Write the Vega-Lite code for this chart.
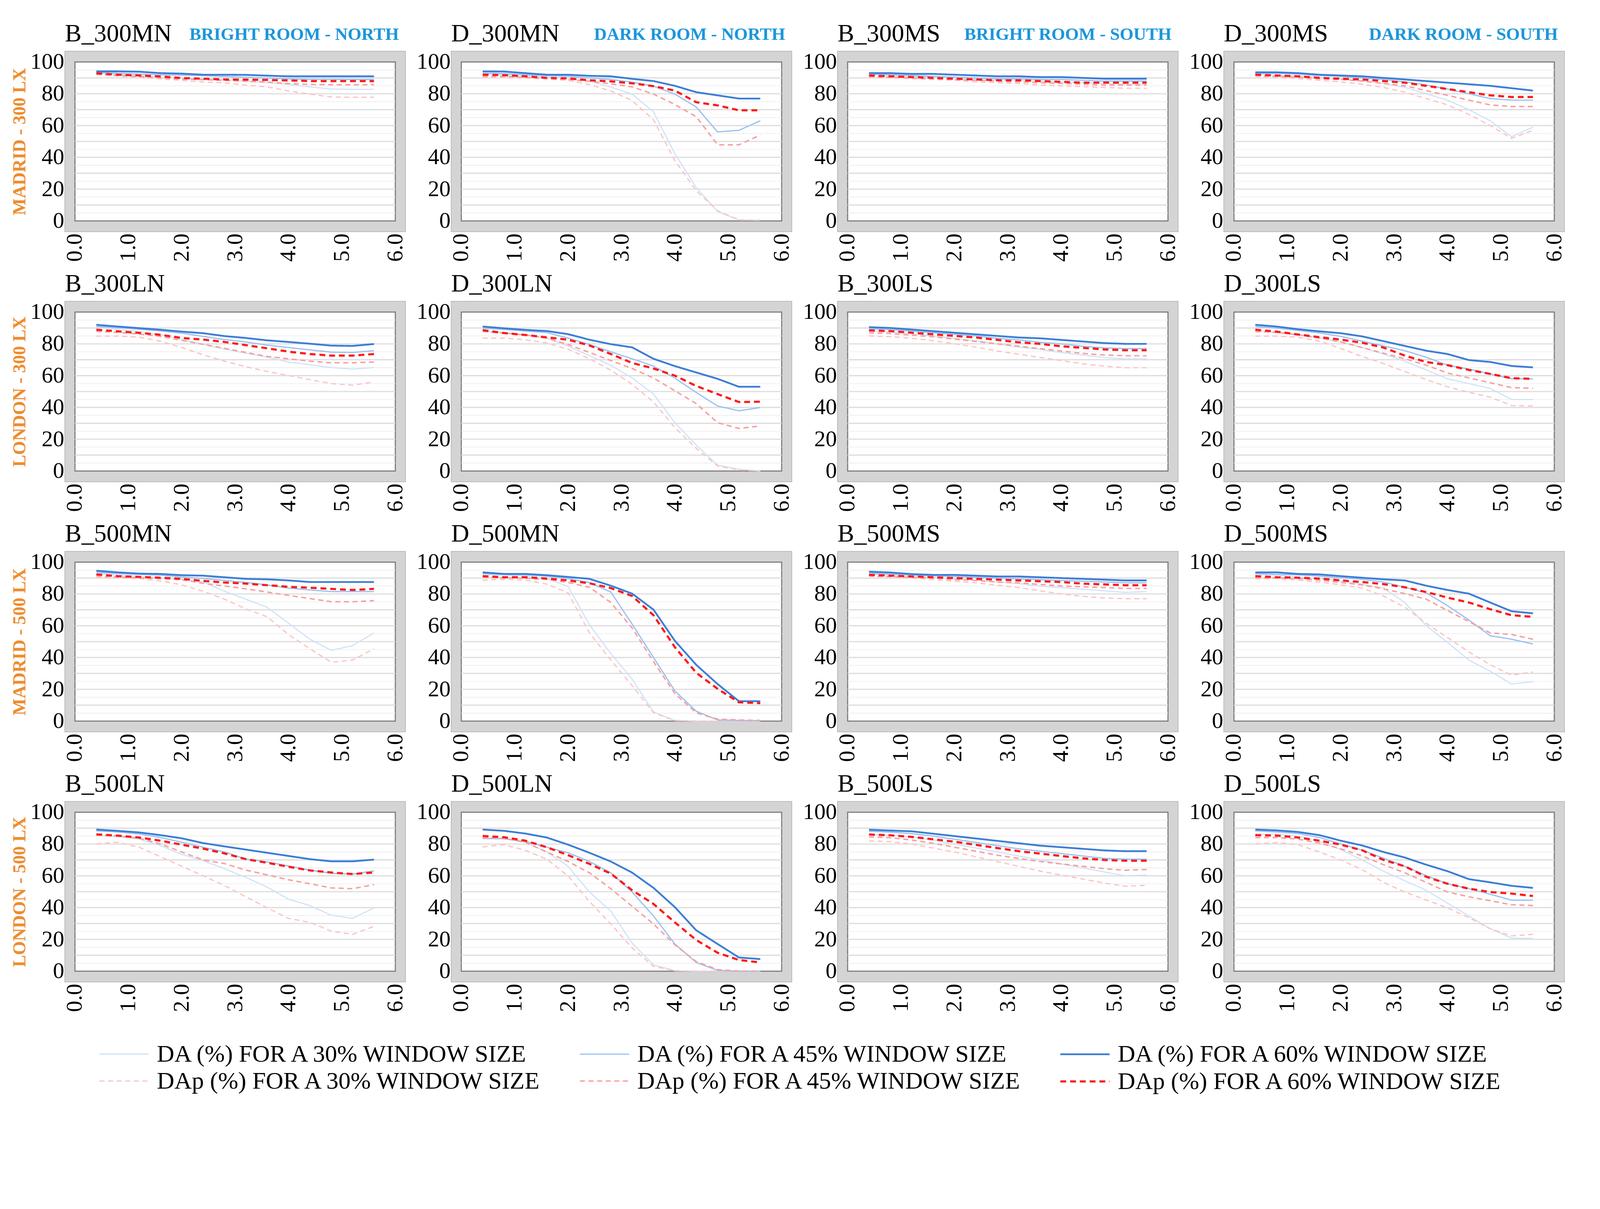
{
"$schema": "https://vega.github.io/schema/vega-lite/v6.json",
"padding": {"left": 26, "top": 53, "right": 10, "bottom": 10},
"background": "#ffffff",
"spacing": 22,
"hconcat": [
{"title": {"text": "BRIGHT ROOM - NORTH", "anchor": "end", "frame": "bounds", "color": "#1a96dc", "fontSize": 45, "fontWeight": "bold", "offset": -57, "dx": -21},
 "spacing": 22,
 "vconcat": [
  {"title":"B_300MN","width":872,"height":462,"layer":[
    {"data":{"values":[{}]},"mark":{"type":"rect","fill":"#ffffff","stroke":"#7a7a7a","strokeWidth":2.8},"encoding":{"x":{"datum":0,"type":"quantitative","scale":{"domain":[-0.19,6.19],"nice":false,"zero":false}},"x2":{"datum":6},"y":{"datum":0,"type":"quantitative","scale":{"domain":[-6.8,106.8],"nice":false,"zero":false}},"y2":{"datum":100}}},
    {"data":{"name":"g5"},"mark":{"type":"rule","stroke":"#eeeeee","strokeWidth":1.8},"encoding":{"x":{"datum":0,"type":"quantitative","scale":{"domain":[-0.19,6.19],"nice":false,"zero":false}},"x2":{"datum":6},"y":{"field":"g","type":"quantitative","scale":{"domain":[-6.8,106.8],"nice":false,"zero":false}}}},
    {"data":{"name":"g10"},"mark":{"type":"rule","stroke":"#dedede","strokeWidth":3.2},"encoding":{"x":{"datum":0,"type":"quantitative","scale":{"domain":[-0.19,6.19],"nice":false,"zero":false}},"x2":{"datum":6},"y":{"field":"g","type":"quantitative","scale":{"domain":[-6.8,106.8],"nice":false,"zero":false}}}},
    {"data":{"name":"B_300MN"},"mark":{"type":"line"},"encoding":{
      "x":{"field":"x","type":"quantitative","scale":{"domain":[-0.19,6.19],"nice":false,"zero":false},"axis":{"values":[0,1,2,3,4,5,6],"format":".1f","title":null}},
      "y":{"field":"y","type":"quantitative","scale":{"domain":[-6.8,106.8],"nice":false,"zero":false},"axis":{"values":[0,20,40,60,80,100],"title":"MADRID - 300 LX"}},
      "color":{"field":"s","type":"nominal","scale":{"domain":["DA30","DA45","DA60","DAp30","DAp45","DAp60"],"range":["#cde2f8","#9cc2f0","#3b7ed6","#fbc4c4","#f7a0a0","#ff1a1a"]},"legend":{"title":null,"symbolType":"M-2,0L2,0","labelExpr":"slice(datum.label,0,-2)+' (%) FOR A '+slice(datum.label,-2)+'% WINDOW SIZE'"}},
      "strokeDash":{"field":"s","type":"nominal","scale":{"domain":["DA30","DA45","DA60","DAp30","DAp45","DAp60"],"range":[[1,0],[1,0],[1,0],[13,9],[13,9],[15,10]]},"legend":{"title":null,"symbolType":"M-2,0L2,0","labelExpr":"slice(datum.label,0,-2)+' (%) FOR A '+slice(datum.label,-2)+'% WINDOW SIZE'"}},
      "strokeWidth":{"field":"s","type":"nominal","scale":{"type":"ordinal","domain":["DA30","DA45","DA60","DAp30","DAp45","DAp60"],"range":[2.8,3.2,4.6,3.2,3.7,5.5]},"legend":{"title":null,"symbolType":"M-2,0L2,0","labelExpr":"slice(datum.label,0,-2)+' (%) FOR A '+slice(datum.label,-2)+'% WINDOW SIZE'"}}}}
   ]},
  {"title":"B_300LN","width":872,"height":462,"layer":[
    {"data":{"values":[{}]},"mark":{"type":"rect","fill":"#ffffff","stroke":"#7a7a7a","strokeWidth":2.8},"encoding":{"x":{"datum":0,"type":"quantitative","scale":{"domain":[-0.19,6.19],"nice":false,"zero":false}},"x2":{"datum":6},"y":{"datum":0,"type":"quantitative","scale":{"domain":[-6.8,106.8],"nice":false,"zero":false}},"y2":{"datum":100}}},
    {"data":{"name":"g5"},"mark":{"type":"rule","stroke":"#eeeeee","strokeWidth":1.8},"encoding":{"x":{"datum":0,"type":"quantitative","scale":{"domain":[-0.19,6.19],"nice":false,"zero":false}},"x2":{"datum":6},"y":{"field":"g","type":"quantitative","scale":{"domain":[-6.8,106.8],"nice":false,"zero":false}}}},
    {"data":{"name":"g10"},"mark":{"type":"rule","stroke":"#dedede","strokeWidth":3.2},"encoding":{"x":{"datum":0,"type":"quantitative","scale":{"domain":[-0.19,6.19],"nice":false,"zero":false}},"x2":{"datum":6},"y":{"field":"g","type":"quantitative","scale":{"domain":[-6.8,106.8],"nice":false,"zero":false}}}},
    {"data":{"name":"B_300LN"},"mark":{"type":"line"},"encoding":{
      "x":{"field":"x","type":"quantitative","scale":{"domain":[-0.19,6.19],"nice":false,"zero":false},"axis":{"values":[0,1,2,3,4,5,6],"format":".1f","title":null}},
      "y":{"field":"y","type":"quantitative","scale":{"domain":[-6.8,106.8],"nice":false,"zero":false},"axis":{"values":[0,20,40,60,80,100],"title":"LONDON - 300 LX"}},
      "color":{"field":"s","type":"nominal","scale":{"domain":["DA30","DA45","DA60","DAp30","DAp45","DAp60"],"range":["#cde2f8","#9cc2f0","#3b7ed6","#fbc4c4","#f7a0a0","#ff1a1a"]},"legend":{"title":null,"symbolType":"M-2,0L2,0","labelExpr":"slice(datum.label,0,-2)+' (%) FOR A '+slice(datum.label,-2)+'% WINDOW SIZE'"}},
      "strokeDash":{"field":"s","type":"nominal","scale":{"domain":["DA30","DA45","DA60","DAp30","DAp45","DAp60"],"range":[[1,0],[1,0],[1,0],[13,9],[13,9],[15,10]]},"legend":{"title":null,"symbolType":"M-2,0L2,0","labelExpr":"slice(datum.label,0,-2)+' (%) FOR A '+slice(datum.label,-2)+'% WINDOW SIZE'"}},
      "strokeWidth":{"field":"s","type":"nominal","scale":{"type":"ordinal","domain":["DA30","DA45","DA60","DAp30","DAp45","DAp60"],"range":[2.8,3.2,4.6,3.2,3.7,5.5]},"legend":{"title":null,"symbolType":"M-2,0L2,0","labelExpr":"slice(datum.label,0,-2)+' (%) FOR A '+slice(datum.label,-2)+'% WINDOW SIZE'"}}}}
   ]},
  {"title":"B_500MN","width":872,"height":462,"layer":[
    {"data":{"values":[{}]},"mark":{"type":"rect","fill":"#ffffff","stroke":"#7a7a7a","strokeWidth":2.8},"encoding":{"x":{"datum":0,"type":"quantitative","scale":{"domain":[-0.19,6.19],"nice":false,"zero":false}},"x2":{"datum":6},"y":{"datum":0,"type":"quantitative","scale":{"domain":[-6.8,106.8],"nice":false,"zero":false}},"y2":{"datum":100}}},
    {"data":{"name":"g5"},"mark":{"type":"rule","stroke":"#eeeeee","strokeWidth":1.8},"encoding":{"x":{"datum":0,"type":"quantitative","scale":{"domain":[-0.19,6.19],"nice":false,"zero":false}},"x2":{"datum":6},"y":{"field":"g","type":"quantitative","scale":{"domain":[-6.8,106.8],"nice":false,"zero":false}}}},
    {"data":{"name":"g10"},"mark":{"type":"rule","stroke":"#dedede","strokeWidth":3.2},"encoding":{"x":{"datum":0,"type":"quantitative","scale":{"domain":[-0.19,6.19],"nice":false,"zero":false}},"x2":{"datum":6},"y":{"field":"g","type":"quantitative","scale":{"domain":[-6.8,106.8],"nice":false,"zero":false}}}},
    {"data":{"name":"B_500MN"},"mark":{"type":"line"},"encoding":{
      "x":{"field":"x","type":"quantitative","scale":{"domain":[-0.19,6.19],"nice":false,"zero":false},"axis":{"values":[0,1,2,3,4,5,6],"format":".1f","title":null}},
      "y":{"field":"y","type":"quantitative","scale":{"domain":[-6.8,106.8],"nice":false,"zero":false},"axis":{"values":[0,20,40,60,80,100],"title":"MADRID - 500 LX"}},
      "color":{"field":"s","type":"nominal","scale":{"domain":["DA30","DA45","DA60","DAp30","DAp45","DAp60"],"range":["#cde2f8","#9cc2f0","#3b7ed6","#fbc4c4","#f7a0a0","#ff1a1a"]},"legend":{"title":null,"symbolType":"M-2,0L2,0","labelExpr":"slice(datum.label,0,-2)+' (%) FOR A '+slice(datum.label,-2)+'% WINDOW SIZE'"}},
      "strokeDash":{"field":"s","type":"nominal","scale":{"domain":["DA30","DA45","DA60","DAp30","DAp45","DAp60"],"range":[[1,0],[1,0],[1,0],[13,9],[13,9],[15,10]]},"legend":{"title":null,"symbolType":"M-2,0L2,0","labelExpr":"slice(datum.label,0,-2)+' (%) FOR A '+slice(datum.label,-2)+'% WINDOW SIZE'"}},
      "strokeWidth":{"field":"s","type":"nominal","scale":{"type":"ordinal","domain":["DA30","DA45","DA60","DAp30","DAp45","DAp60"],"range":[2.8,3.2,4.6,3.2,3.7,5.5]},"legend":{"title":null,"symbolType":"M-2,0L2,0","labelExpr":"slice(datum.label,0,-2)+' (%) FOR A '+slice(datum.label,-2)+'% WINDOW SIZE'"}}}}
   ]},
  {"title":"B_500LN","width":872,"height":462,"layer":[
    {"data":{"values":[{}]},"mark":{"type":"rect","fill":"#ffffff","stroke":"#7a7a7a","strokeWidth":2.8},"encoding":{"x":{"datum":0,"type":"quantitative","scale":{"domain":[-0.19,6.19],"nice":false,"zero":false}},"x2":{"datum":6},"y":{"datum":0,"type":"quantitative","scale":{"domain":[-6.8,106.8],"nice":false,"zero":false}},"y2":{"datum":100}}},
    {"data":{"name":"g5"},"mark":{"type":"rule","stroke":"#eeeeee","strokeWidth":1.8},"encoding":{"x":{"datum":0,"type":"quantitative","scale":{"domain":[-0.19,6.19],"nice":false,"zero":false}},"x2":{"datum":6},"y":{"field":"g","type":"quantitative","scale":{"domain":[-6.8,106.8],"nice":false,"zero":false}}}},
    {"data":{"name":"g10"},"mark":{"type":"rule","stroke":"#dedede","strokeWidth":3.2},"encoding":{"x":{"datum":0,"type":"quantitative","scale":{"domain":[-0.19,6.19],"nice":false,"zero":false}},"x2":{"datum":6},"y":{"field":"g","type":"quantitative","scale":{"domain":[-6.8,106.8],"nice":false,"zero":false}}}},
    {"data":{"name":"B_500LN"},"mark":{"type":"line"},"encoding":{
      "x":{"field":"x","type":"quantitative","scale":{"domain":[-0.19,6.19],"nice":false,"zero":false},"axis":{"values":[0,1,2,3,4,5,6],"format":".1f","title":null}},
      "y":{"field":"y","type":"quantitative","scale":{"domain":[-6.8,106.8],"nice":false,"zero":false},"axis":{"values":[0,20,40,60,80,100],"title":"LONDON - 500 LX"}},
      "color":{"field":"s","type":"nominal","scale":{"domain":["DA30","DA45","DA60","DAp30","DAp45","DAp60"],"range":["#cde2f8","#9cc2f0","#3b7ed6","#fbc4c4","#f7a0a0","#ff1a1a"]},"legend":{"title":null,"symbolType":"M-2,0L2,0","labelExpr":"slice(datum.label,0,-2)+' (%) FOR A '+slice(datum.label,-2)+'% WINDOW SIZE'"}},
      "strokeDash":{"field":"s","type":"nominal","scale":{"domain":["DA30","DA45","DA60","DAp30","DAp45","DAp60"],"range":[[1,0],[1,0],[1,0],[13,9],[13,9],[15,10]]},"legend":{"title":null,"symbolType":"M-2,0L2,0","labelExpr":"slice(datum.label,0,-2)+' (%) FOR A '+slice(datum.label,-2)+'% WINDOW SIZE'"}},
      "strokeWidth":{"field":"s","type":"nominal","scale":{"type":"ordinal","domain":["DA30","DA45","DA60","DAp30","DAp45","DAp60"],"range":[2.8,3.2,4.6,3.2,3.7,5.5]},"legend":{"title":null,"symbolType":"M-2,0L2,0","labelExpr":"slice(datum.label,0,-2)+' (%) FOR A '+slice(datum.label,-2)+'% WINDOW SIZE'"}}}}
   ]}
 ]},
{"title": {"text": "DARK ROOM - NORTH", "anchor": "end", "frame": "bounds", "color": "#1a96dc", "fontSize": 45, "fontWeight": "bold", "offset": -57, "dx": -21},
 "spacing": 22,
 "vconcat": [
  {"title":"D_300MN","width":872,"height":462,"layer":[
    {"data":{"values":[{}]},"mark":{"type":"rect","fill":"#ffffff","stroke":"#7a7a7a","strokeWidth":2.8},"encoding":{"x":{"datum":0,"type":"quantitative","scale":{"domain":[-0.19,6.19],"nice":false,"zero":false}},"x2":{"datum":6},"y":{"datum":0,"type":"quantitative","scale":{"domain":[-6.8,106.8],"nice":false,"zero":false}},"y2":{"datum":100}}},
    {"data":{"name":"g5"},"mark":{"type":"rule","stroke":"#eeeeee","strokeWidth":1.8},"encoding":{"x":{"datum":0,"type":"quantitative","scale":{"domain":[-0.19,6.19],"nice":false,"zero":false}},"x2":{"datum":6},"y":{"field":"g","type":"quantitative","scale":{"domain":[-6.8,106.8],"nice":false,"zero":false}}}},
    {"data":{"name":"g10"},"mark":{"type":"rule","stroke":"#dedede","strokeWidth":3.2},"encoding":{"x":{"datum":0,"type":"quantitative","scale":{"domain":[-0.19,6.19],"nice":false,"zero":false}},"x2":{"datum":6},"y":{"field":"g","type":"quantitative","scale":{"domain":[-6.8,106.8],"nice":false,"zero":false}}}},
    {"data":{"name":"D_300MN"},"mark":{"type":"line"},"encoding":{
      "x":{"field":"x","type":"quantitative","scale":{"domain":[-0.19,6.19],"nice":false,"zero":false},"axis":{"values":[0,1,2,3,4,5,6],"format":".1f","title":null}},
      "y":{"field":"y","type":"quantitative","scale":{"domain":[-6.8,106.8],"nice":false,"zero":false},"axis":{"values":[0,20,40,60,80,100],"title":null}},
      "color":{"field":"s","type":"nominal","scale":{"domain":["DA30","DA45","DA60","DAp30","DAp45","DAp60"],"range":["#cde2f8","#9cc2f0","#3b7ed6","#fbc4c4","#f7a0a0","#ff1a1a"]},"legend":{"title":null,"symbolType":"M-2,0L2,0","labelExpr":"slice(datum.label,0,-2)+' (%) FOR A '+slice(datum.label,-2)+'% WINDOW SIZE'"}},
      "strokeDash":{"field":"s","type":"nominal","scale":{"domain":["DA30","DA45","DA60","DAp30","DAp45","DAp60"],"range":[[1,0],[1,0],[1,0],[13,9],[13,9],[15,10]]},"legend":{"title":null,"symbolType":"M-2,0L2,0","labelExpr":"slice(datum.label,0,-2)+' (%) FOR A '+slice(datum.label,-2)+'% WINDOW SIZE'"}},
      "strokeWidth":{"field":"s","type":"nominal","scale":{"type":"ordinal","domain":["DA30","DA45","DA60","DAp30","DAp45","DAp60"],"range":[2.8,3.2,4.6,3.2,3.7,5.5]},"legend":{"title":null,"symbolType":"M-2,0L2,0","labelExpr":"slice(datum.label,0,-2)+' (%) FOR A '+slice(datum.label,-2)+'% WINDOW SIZE'"}}}}
   ]},
  {"title":"D_300LN","width":872,"height":462,"layer":[
    {"data":{"values":[{}]},"mark":{"type":"rect","fill":"#ffffff","stroke":"#7a7a7a","strokeWidth":2.8},"encoding":{"x":{"datum":0,"type":"quantitative","scale":{"domain":[-0.19,6.19],"nice":false,"zero":false}},"x2":{"datum":6},"y":{"datum":0,"type":"quantitative","scale":{"domain":[-6.8,106.8],"nice":false,"zero":false}},"y2":{"datum":100}}},
    {"data":{"name":"g5"},"mark":{"type":"rule","stroke":"#eeeeee","strokeWidth":1.8},"encoding":{"x":{"datum":0,"type":"quantitative","scale":{"domain":[-0.19,6.19],"nice":false,"zero":false}},"x2":{"datum":6},"y":{"field":"g","type":"quantitative","scale":{"domain":[-6.8,106.8],"nice":false,"zero":false}}}},
    {"data":{"name":"g10"},"mark":{"type":"rule","stroke":"#dedede","strokeWidth":3.2},"encoding":{"x":{"datum":0,"type":"quantitative","scale":{"domain":[-0.19,6.19],"nice":false,"zero":false}},"x2":{"datum":6},"y":{"field":"g","type":"quantitative","scale":{"domain":[-6.8,106.8],"nice":false,"zero":false}}}},
    {"data":{"name":"D_300LN"},"mark":{"type":"line"},"encoding":{
      "x":{"field":"x","type":"quantitative","scale":{"domain":[-0.19,6.19],"nice":false,"zero":false},"axis":{"values":[0,1,2,3,4,5,6],"format":".1f","title":null}},
      "y":{"field":"y","type":"quantitative","scale":{"domain":[-6.8,106.8],"nice":false,"zero":false},"axis":{"values":[0,20,40,60,80,100],"title":null}},
      "color":{"field":"s","type":"nominal","scale":{"domain":["DA30","DA45","DA60","DAp30","DAp45","DAp60"],"range":["#cde2f8","#9cc2f0","#3b7ed6","#fbc4c4","#f7a0a0","#ff1a1a"]},"legend":{"title":null,"symbolType":"M-2,0L2,0","labelExpr":"slice(datum.label,0,-2)+' (%) FOR A '+slice(datum.label,-2)+'% WINDOW SIZE'"}},
      "strokeDash":{"field":"s","type":"nominal","scale":{"domain":["DA30","DA45","DA60","DAp30","DAp45","DAp60"],"range":[[1,0],[1,0],[1,0],[13,9],[13,9],[15,10]]},"legend":{"title":null,"symbolType":"M-2,0L2,0","labelExpr":"slice(datum.label,0,-2)+' (%) FOR A '+slice(datum.label,-2)+'% WINDOW SIZE'"}},
      "strokeWidth":{"field":"s","type":"nominal","scale":{"type":"ordinal","domain":["DA30","DA45","DA60","DAp30","DAp45","DAp60"],"range":[2.8,3.2,4.6,3.2,3.7,5.5]},"legend":{"title":null,"symbolType":"M-2,0L2,0","labelExpr":"slice(datum.label,0,-2)+' (%) FOR A '+slice(datum.label,-2)+'% WINDOW SIZE'"}}}}
   ]},
  {"title":"D_500MN","width":872,"height":462,"layer":[
    {"data":{"values":[{}]},"mark":{"type":"rect","fill":"#ffffff","stroke":"#7a7a7a","strokeWidth":2.8},"encoding":{"x":{"datum":0,"type":"quantitative","scale":{"domain":[-0.19,6.19],"nice":false,"zero":false}},"x2":{"datum":6},"y":{"datum":0,"type":"quantitative","scale":{"domain":[-6.8,106.8],"nice":false,"zero":false}},"y2":{"datum":100}}},
    {"data":{"name":"g5"},"mark":{"type":"rule","stroke":"#eeeeee","strokeWidth":1.8},"encoding":{"x":{"datum":0,"type":"quantitative","scale":{"domain":[-0.19,6.19],"nice":false,"zero":false}},"x2":{"datum":6},"y":{"field":"g","type":"quantitative","scale":{"domain":[-6.8,106.8],"nice":false,"zero":false}}}},
    {"data":{"name":"g10"},"mark":{"type":"rule","stroke":"#dedede","strokeWidth":3.2},"encoding":{"x":{"datum":0,"type":"quantitative","scale":{"domain":[-0.19,6.19],"nice":false,"zero":false}},"x2":{"datum":6},"y":{"field":"g","type":"quantitative","scale":{"domain":[-6.8,106.8],"nice":false,"zero":false}}}},
    {"data":{"name":"D_500MN"},"mark":{"type":"line"},"encoding":{
      "x":{"field":"x","type":"quantitative","scale":{"domain":[-0.19,6.19],"nice":false,"zero":false},"axis":{"values":[0,1,2,3,4,5,6],"format":".1f","title":null}},
      "y":{"field":"y","type":"quantitative","scale":{"domain":[-6.8,106.8],"nice":false,"zero":false},"axis":{"values":[0,20,40,60,80,100],"title":null}},
      "color":{"field":"s","type":"nominal","scale":{"domain":["DA30","DA45","DA60","DAp30","DAp45","DAp60"],"range":["#cde2f8","#9cc2f0","#3b7ed6","#fbc4c4","#f7a0a0","#ff1a1a"]},"legend":{"title":null,"symbolType":"M-2,0L2,0","labelExpr":"slice(datum.label,0,-2)+' (%) FOR A '+slice(datum.label,-2)+'% WINDOW SIZE'"}},
      "strokeDash":{"field":"s","type":"nominal","scale":{"domain":["DA30","DA45","DA60","DAp30","DAp45","DAp60"],"range":[[1,0],[1,0],[1,0],[13,9],[13,9],[15,10]]},"legend":{"title":null,"symbolType":"M-2,0L2,0","labelExpr":"slice(datum.label,0,-2)+' (%) FOR A '+slice(datum.label,-2)+'% WINDOW SIZE'"}},
      "strokeWidth":{"field":"s","type":"nominal","scale":{"type":"ordinal","domain":["DA30","DA45","DA60","DAp30","DAp45","DAp60"],"range":[2.8,3.2,4.6,3.2,3.7,5.5]},"legend":{"title":null,"symbolType":"M-2,0L2,0","labelExpr":"slice(datum.label,0,-2)+' (%) FOR A '+slice(datum.label,-2)+'% WINDOW SIZE'"}}}}
   ]},
  {"title":"D_500LN","width":872,"height":462,"layer":[
    {"data":{"values":[{}]},"mark":{"type":"rect","fill":"#ffffff","stroke":"#7a7a7a","strokeWidth":2.8},"encoding":{"x":{"datum":0,"type":"quantitative","scale":{"domain":[-0.19,6.19],"nice":false,"zero":false}},"x2":{"datum":6},"y":{"datum":0,"type":"quantitative","scale":{"domain":[-6.8,106.8],"nice":false,"zero":false}},"y2":{"datum":100}}},
    {"data":{"name":"g5"},"mark":{"type":"rule","stroke":"#eeeeee","strokeWidth":1.8},"encoding":{"x":{"datum":0,"type":"quantitative","scale":{"domain":[-0.19,6.19],"nice":false,"zero":false}},"x2":{"datum":6},"y":{"field":"g","type":"quantitative","scale":{"domain":[-6.8,106.8],"nice":false,"zero":false}}}},
    {"data":{"name":"g10"},"mark":{"type":"rule","stroke":"#dedede","strokeWidth":3.2},"encoding":{"x":{"datum":0,"type":"quantitative","scale":{"domain":[-0.19,6.19],"nice":false,"zero":false}},"x2":{"datum":6},"y":{"field":"g","type":"quantitative","scale":{"domain":[-6.8,106.8],"nice":false,"zero":false}}}},
    {"data":{"name":"D_500LN"},"mark":{"type":"line"},"encoding":{
      "x":{"field":"x","type":"quantitative","scale":{"domain":[-0.19,6.19],"nice":false,"zero":false},"axis":{"values":[0,1,2,3,4,5,6],"format":".1f","title":null}},
      "y":{"field":"y","type":"quantitative","scale":{"domain":[-6.8,106.8],"nice":false,"zero":false},"axis":{"values":[0,20,40,60,80,100],"title":null}},
      "color":{"field":"s","type":"nominal","scale":{"domain":["DA30","DA45","DA60","DAp30","DAp45","DAp60"],"range":["#cde2f8","#9cc2f0","#3b7ed6","#fbc4c4","#f7a0a0","#ff1a1a"]},"legend":{"title":null,"symbolType":"M-2,0L2,0","labelExpr":"slice(datum.label,0,-2)+' (%) FOR A '+slice(datum.label,-2)+'% WINDOW SIZE'"}},
      "strokeDash":{"field":"s","type":"nominal","scale":{"domain":["DA30","DA45","DA60","DAp30","DAp45","DAp60"],"range":[[1,0],[1,0],[1,0],[13,9],[13,9],[15,10]]},"legend":{"title":null,"symbolType":"M-2,0L2,0","labelExpr":"slice(datum.label,0,-2)+' (%) FOR A '+slice(datum.label,-2)+'% WINDOW SIZE'"}},
      "strokeWidth":{"field":"s","type":"nominal","scale":{"type":"ordinal","domain":["DA30","DA45","DA60","DAp30","DAp45","DAp60"],"range":[2.8,3.2,4.6,3.2,3.7,5.5]},"legend":{"title":null,"symbolType":"M-2,0L2,0","labelExpr":"slice(datum.label,0,-2)+' (%) FOR A '+slice(datum.label,-2)+'% WINDOW SIZE'"}}}}
   ]}
 ]},
{"title": {"text": "BRIGHT ROOM - SOUTH", "anchor": "end", "frame": "bounds", "color": "#1a96dc", "fontSize": 45, "fontWeight": "bold", "offset": -57, "dx": -21},
 "spacing": 22,
 "vconcat": [
  {"title":"B_300MS","width":872,"height":462,"layer":[
    {"data":{"values":[{}]},"mark":{"type":"rect","fill":"#ffffff","stroke":"#7a7a7a","strokeWidth":2.8},"encoding":{"x":{"datum":0,"type":"quantitative","scale":{"domain":[-0.19,6.19],"nice":false,"zero":false}},"x2":{"datum":6},"y":{"datum":0,"type":"quantitative","scale":{"domain":[-6.8,106.8],"nice":false,"zero":false}},"y2":{"datum":100}}},
    {"data":{"name":"g5"},"mark":{"type":"rule","stroke":"#eeeeee","strokeWidth":1.8},"encoding":{"x":{"datum":0,"type":"quantitative","scale":{"domain":[-0.19,6.19],"nice":false,"zero":false}},"x2":{"datum":6},"y":{"field":"g","type":"quantitative","scale":{"domain":[-6.8,106.8],"nice":false,"zero":false}}}},
    {"data":{"name":"g10"},"mark":{"type":"rule","stroke":"#dedede","strokeWidth":3.2},"encoding":{"x":{"datum":0,"type":"quantitative","scale":{"domain":[-0.19,6.19],"nice":false,"zero":false}},"x2":{"datum":6},"y":{"field":"g","type":"quantitative","scale":{"domain":[-6.8,106.8],"nice":false,"zero":false}}}},
    {"data":{"name":"B_300MS"},"mark":{"type":"line"},"encoding":{
      "x":{"field":"x","type":"quantitative","scale":{"domain":[-0.19,6.19],"nice":false,"zero":false},"axis":{"values":[0,1,2,3,4,5,6],"format":".1f","title":null}},
      "y":{"field":"y","type":"quantitative","scale":{"domain":[-6.8,106.8],"nice":false,"zero":false},"axis":{"values":[0,20,40,60,80,100],"title":null}},
      "color":{"field":"s","type":"nominal","scale":{"domain":["DA30","DA45","DA60","DAp30","DAp45","DAp60"],"range":["#cde2f8","#9cc2f0","#3b7ed6","#fbc4c4","#f7a0a0","#ff1a1a"]},"legend":{"title":null,"symbolType":"M-2,0L2,0","labelExpr":"slice(datum.label,0,-2)+' (%) FOR A '+slice(datum.label,-2)+'% WINDOW SIZE'"}},
      "strokeDash":{"field":"s","type":"nominal","scale":{"domain":["DA30","DA45","DA60","DAp30","DAp45","DAp60"],"range":[[1,0],[1,0],[1,0],[13,9],[13,9],[15,10]]},"legend":{"title":null,"symbolType":"M-2,0L2,0","labelExpr":"slice(datum.label,0,-2)+' (%) FOR A '+slice(datum.label,-2)+'% WINDOW SIZE'"}},
      "strokeWidth":{"field":"s","type":"nominal","scale":{"type":"ordinal","domain":["DA30","DA45","DA60","DAp30","DAp45","DAp60"],"range":[2.8,3.2,4.6,3.2,3.7,5.5]},"legend":{"title":null,"symbolType":"M-2,0L2,0","labelExpr":"slice(datum.label,0,-2)+' (%) FOR A '+slice(datum.label,-2)+'% WINDOW SIZE'"}}}}
   ]},
  {"title":"B_300LS","width":872,"height":462,"layer":[
    {"data":{"values":[{}]},"mark":{"type":"rect","fill":"#ffffff","stroke":"#7a7a7a","strokeWidth":2.8},"encoding":{"x":{"datum":0,"type":"quantitative","scale":{"domain":[-0.19,6.19],"nice":false,"zero":false}},"x2":{"datum":6},"y":{"datum":0,"type":"quantitative","scale":{"domain":[-6.8,106.8],"nice":false,"zero":false}},"y2":{"datum":100}}},
    {"data":{"name":"g5"},"mark":{"type":"rule","stroke":"#eeeeee","strokeWidth":1.8},"encoding":{"x":{"datum":0,"type":"quantitative","scale":{"domain":[-0.19,6.19],"nice":false,"zero":false}},"x2":{"datum":6},"y":{"field":"g","type":"quantitative","scale":{"domain":[-6.8,106.8],"nice":false,"zero":false}}}},
    {"data":{"name":"g10"},"mark":{"type":"rule","stroke":"#dedede","strokeWidth":3.2},"encoding":{"x":{"datum":0,"type":"quantitative","scale":{"domain":[-0.19,6.19],"nice":false,"zero":false}},"x2":{"datum":6},"y":{"field":"g","type":"quantitative","scale":{"domain":[-6.8,106.8],"nice":false,"zero":false}}}},
    {"data":{"name":"B_300LS"},"mark":{"type":"line"},"encoding":{
      "x":{"field":"x","type":"quantitative","scale":{"domain":[-0.19,6.19],"nice":false,"zero":false},"axis":{"values":[0,1,2,3,4,5,6],"format":".1f","title":null}},
      "y":{"field":"y","type":"quantitative","scale":{"domain":[-6.8,106.8],"nice":false,"zero":false},"axis":{"values":[0,20,40,60,80,100],"title":null}},
      "color":{"field":"s","type":"nominal","scale":{"domain":["DA30","DA45","DA60","DAp30","DAp45","DAp60"],"range":["#cde2f8","#9cc2f0","#3b7ed6","#fbc4c4","#f7a0a0","#ff1a1a"]},"legend":{"title":null,"symbolType":"M-2,0L2,0","labelExpr":"slice(datum.label,0,-2)+' (%) FOR A '+slice(datum.label,-2)+'% WINDOW SIZE'"}},
      "strokeDash":{"field":"s","type":"nominal","scale":{"domain":["DA30","DA45","DA60","DAp30","DAp45","DAp60"],"range":[[1,0],[1,0],[1,0],[13,9],[13,9],[15,10]]},"legend":{"title":null,"symbolType":"M-2,0L2,0","labelExpr":"slice(datum.label,0,-2)+' (%) FOR A '+slice(datum.label,-2)+'% WINDOW SIZE'"}},
      "strokeWidth":{"field":"s","type":"nominal","scale":{"type":"ordinal","domain":["DA30","DA45","DA60","DAp30","DAp45","DAp60"],"range":[2.8,3.2,4.6,3.2,3.7,5.5]},"legend":{"title":null,"symbolType":"M-2,0L2,0","labelExpr":"slice(datum.label,0,-2)+' (%) FOR A '+slice(datum.label,-2)+'% WINDOW SIZE'"}}}}
   ]},
  {"title":"B_500MS","width":872,"height":462,"layer":[
    {"data":{"values":[{}]},"mark":{"type":"rect","fill":"#ffffff","stroke":"#7a7a7a","strokeWidth":2.8},"encoding":{"x":{"datum":0,"type":"quantitative","scale":{"domain":[-0.19,6.19],"nice":false,"zero":false}},"x2":{"datum":6},"y":{"datum":0,"type":"quantitative","scale":{"domain":[-6.8,106.8],"nice":false,"zero":false}},"y2":{"datum":100}}},
    {"data":{"name":"g5"},"mark":{"type":"rule","stroke":"#eeeeee","strokeWidth":1.8},"encoding":{"x":{"datum":0,"type":"quantitative","scale":{"domain":[-0.19,6.19],"nice":false,"zero":false}},"x2":{"datum":6},"y":{"field":"g","type":"quantitative","scale":{"domain":[-6.8,106.8],"nice":false,"zero":false}}}},
    {"data":{"name":"g10"},"mark":{"type":"rule","stroke":"#dedede","strokeWidth":3.2},"encoding":{"x":{"datum":0,"type":"quantitative","scale":{"domain":[-0.19,6.19],"nice":false,"zero":false}},"x2":{"datum":6},"y":{"field":"g","type":"quantitative","scale":{"domain":[-6.8,106.8],"nice":false,"zero":false}}}},
    {"data":{"name":"B_500MS"},"mark":{"type":"line"},"encoding":{
      "x":{"field":"x","type":"quantitative","scale":{"domain":[-0.19,6.19],"nice":false,"zero":false},"axis":{"values":[0,1,2,3,4,5,6],"format":".1f","title":null}},
      "y":{"field":"y","type":"quantitative","scale":{"domain":[-6.8,106.8],"nice":false,"zero":false},"axis":{"values":[0,20,40,60,80,100],"title":null}},
      "color":{"field":"s","type":"nominal","scale":{"domain":["DA30","DA45","DA60","DAp30","DAp45","DAp60"],"range":["#cde2f8","#9cc2f0","#3b7ed6","#fbc4c4","#f7a0a0","#ff1a1a"]},"legend":{"title":null,"symbolType":"M-2,0L2,0","labelExpr":"slice(datum.label,0,-2)+' (%) FOR A '+slice(datum.label,-2)+'% WINDOW SIZE'"}},
      "strokeDash":{"field":"s","type":"nominal","scale":{"domain":["DA30","DA45","DA60","DAp30","DAp45","DAp60"],"range":[[1,0],[1,0],[1,0],[13,9],[13,9],[15,10]]},"legend":{"title":null,"symbolType":"M-2,0L2,0","labelExpr":"slice(datum.label,0,-2)+' (%) FOR A '+slice(datum.label,-2)+'% WINDOW SIZE'"}},
      "strokeWidth":{"field":"s","type":"nominal","scale":{"type":"ordinal","domain":["DA30","DA45","DA60","DAp30","DAp45","DAp60"],"range":[2.8,3.2,4.6,3.2,3.7,5.5]},"legend":{"title":null,"symbolType":"M-2,0L2,0","labelExpr":"slice(datum.label,0,-2)+' (%) FOR A '+slice(datum.label,-2)+'% WINDOW SIZE'"}}}}
   ]},
  {"title":"B_500LS","width":872,"height":462,"layer":[
    {"data":{"values":[{}]},"mark":{"type":"rect","fill":"#ffffff","stroke":"#7a7a7a","strokeWidth":2.8},"encoding":{"x":{"datum":0,"type":"quantitative","scale":{"domain":[-0.19,6.19],"nice":false,"zero":false}},"x2":{"datum":6},"y":{"datum":0,"type":"quantitative","scale":{"domain":[-6.8,106.8],"nice":false,"zero":false}},"y2":{"datum":100}}},
    {"data":{"name":"g5"},"mark":{"type":"rule","stroke":"#eeeeee","strokeWidth":1.8},"encoding":{"x":{"datum":0,"type":"quantitative","scale":{"domain":[-0.19,6.19],"nice":false,"zero":false}},"x2":{"datum":6},"y":{"field":"g","type":"quantitative","scale":{"domain":[-6.8,106.8],"nice":false,"zero":false}}}},
    {"data":{"name":"g10"},"mark":{"type":"rule","stroke":"#dedede","strokeWidth":3.2},"encoding":{"x":{"datum":0,"type":"quantitative","scale":{"domain":[-0.19,6.19],"nice":false,"zero":false}},"x2":{"datum":6},"y":{"field":"g","type":"quantitative","scale":{"domain":[-6.8,106.8],"nice":false,"zero":false}}}},
    {"data":{"name":"B_500LS"},"mark":{"type":"line"},"encoding":{
      "x":{"field":"x","type":"quantitative","scale":{"domain":[-0.19,6.19],"nice":false,"zero":false},"axis":{"values":[0,1,2,3,4,5,6],"format":".1f","title":null}},
      "y":{"field":"y","type":"quantitative","scale":{"domain":[-6.8,106.8],"nice":false,"zero":false},"axis":{"values":[0,20,40,60,80,100],"title":null}},
      "color":{"field":"s","type":"nominal","scale":{"domain":["DA30","DA45","DA60","DAp30","DAp45","DAp60"],"range":["#cde2f8","#9cc2f0","#3b7ed6","#fbc4c4","#f7a0a0","#ff1a1a"]},"legend":{"title":null,"symbolType":"M-2,0L2,0","labelExpr":"slice(datum.label,0,-2)+' (%) FOR A '+slice(datum.label,-2)+'% WINDOW SIZE'"}},
      "strokeDash":{"field":"s","type":"nominal","scale":{"domain":["DA30","DA45","DA60","DAp30","DAp45","DAp60"],"range":[[1,0],[1,0],[1,0],[13,9],[13,9],[15,10]]},"legend":{"title":null,"symbolType":"M-2,0L2,0","labelExpr":"slice(datum.label,0,-2)+' (%) FOR A '+slice(datum.label,-2)+'% WINDOW SIZE'"}},
      "strokeWidth":{"field":"s","type":"nominal","scale":{"type":"ordinal","domain":["DA30","DA45","DA60","DAp30","DAp45","DAp60"],"range":[2.8,3.2,4.6,3.2,3.7,5.5]},"legend":{"title":null,"symbolType":"M-2,0L2,0","labelExpr":"slice(datum.label,0,-2)+' (%) FOR A '+slice(datum.label,-2)+'% WINDOW SIZE'"}}}}
   ]}
 ]},
{"title": {"text": "DARK ROOM - SOUTH", "anchor": "end", "frame": "bounds", "color": "#1a96dc", "fontSize": 45, "fontWeight": "bold", "offset": -57, "dx": -21},
 "spacing": 22,
 "vconcat": [
  {"title":"D_300MS","width":872,"height":462,"layer":[
    {"data":{"values":[{}]},"mark":{"type":"rect","fill":"#ffffff","stroke":"#7a7a7a","strokeWidth":2.8},"encoding":{"x":{"datum":0,"type":"quantitative","scale":{"domain":[-0.19,6.19],"nice":false,"zero":false}},"x2":{"datum":6},"y":{"datum":0,"type":"quantitative","scale":{"domain":[-6.8,106.8],"nice":false,"zero":false}},"y2":{"datum":100}}},
    {"data":{"name":"g5"},"mark":{"type":"rule","stroke":"#eeeeee","strokeWidth":1.8},"encoding":{"x":{"datum":0,"type":"quantitative","scale":{"domain":[-0.19,6.19],"nice":false,"zero":false}},"x2":{"datum":6},"y":{"field":"g","type":"quantitative","scale":{"domain":[-6.8,106.8],"nice":false,"zero":false}}}},
    {"data":{"name":"g10"},"mark":{"type":"rule","stroke":"#dedede","strokeWidth":3.2},"encoding":{"x":{"datum":0,"type":"quantitative","scale":{"domain":[-0.19,6.19],"nice":false,"zero":false}},"x2":{"datum":6},"y":{"field":"g","type":"quantitative","scale":{"domain":[-6.8,106.8],"nice":false,"zero":false}}}},
    {"data":{"name":"D_300MS"},"mark":{"type":"line"},"encoding":{
      "x":{"field":"x","type":"quantitative","scale":{"domain":[-0.19,6.19],"nice":false,"zero":false},"axis":{"values":[0,1,2,3,4,5,6],"format":".1f","title":null}},
      "y":{"field":"y","type":"quantitative","scale":{"domain":[-6.8,106.8],"nice":false,"zero":false},"axis":{"values":[0,20,40,60,80,100],"title":null}},
      "color":{"field":"s","type":"nominal","scale":{"domain":["DA30","DA45","DA60","DAp30","DAp45","DAp60"],"range":["#cde2f8","#9cc2f0","#3b7ed6","#fbc4c4","#f7a0a0","#ff1a1a"]},"legend":{"title":null,"symbolType":"M-2,0L2,0","labelExpr":"slice(datum.label,0,-2)+' (%) FOR A '+slice(datum.label,-2)+'% WINDOW SIZE'"}},
      "strokeDash":{"field":"s","type":"nominal","scale":{"domain":["DA30","DA45","DA60","DAp30","DAp45","DAp60"],"range":[[1,0],[1,0],[1,0],[13,9],[13,9],[15,10]]},"legend":{"title":null,"symbolType":"M-2,0L2,0","labelExpr":"slice(datum.label,0,-2)+' (%) FOR A '+slice(datum.label,-2)+'% WINDOW SIZE'"}},
      "strokeWidth":{"field":"s","type":"nominal","scale":{"type":"ordinal","domain":["DA30","DA45","DA60","DAp30","DAp45","DAp60"],"range":[2.8,3.2,4.6,3.2,3.7,5.5]},"legend":{"title":null,"symbolType":"M-2,0L2,0","labelExpr":"slice(datum.label,0,-2)+' (%) FOR A '+slice(datum.label,-2)+'% WINDOW SIZE'"}}}}
   ]},
  {"title":"D_300LS","width":872,"height":462,"layer":[
    {"data":{"values":[{}]},"mark":{"type":"rect","fill":"#ffffff","stroke":"#7a7a7a","strokeWidth":2.8},"encoding":{"x":{"datum":0,"type":"quantitative","scale":{"domain":[-0.19,6.19],"nice":false,"zero":false}},"x2":{"datum":6},"y":{"datum":0,"type":"quantitative","scale":{"domain":[-6.8,106.8],"nice":false,"zero":false}},"y2":{"datum":100}}},
    {"data":{"name":"g5"},"mark":{"type":"rule","stroke":"#eeeeee","strokeWidth":1.8},"encoding":{"x":{"datum":0,"type":"quantitative","scale":{"domain":[-0.19,6.19],"nice":false,"zero":false}},"x2":{"datum":6},"y":{"field":"g","type":"quantitative","scale":{"domain":[-6.8,106.8],"nice":false,"zero":false}}}},
    {"data":{"name":"g10"},"mark":{"type":"rule","stroke":"#dedede","strokeWidth":3.2},"encoding":{"x":{"datum":0,"type":"quantitative","scale":{"domain":[-0.19,6.19],"nice":false,"zero":false}},"x2":{"datum":6},"y":{"field":"g","type":"quantitative","scale":{"domain":[-6.8,106.8],"nice":false,"zero":false}}}},
    {"data":{"name":"D_300LS"},"mark":{"type":"line"},"encoding":{
      "x":{"field":"x","type":"quantitative","scale":{"domain":[-0.19,6.19],"nice":false,"zero":false},"axis":{"values":[0,1,2,3,4,5,6],"format":".1f","title":null}},
      "y":{"field":"y","type":"quantitative","scale":{"domain":[-6.8,106.8],"nice":false,"zero":false},"axis":{"values":[0,20,40,60,80,100],"title":null}},
      "color":{"field":"s","type":"nominal","scale":{"domain":["DA30","DA45","DA60","DAp30","DAp45","DAp60"],"range":["#cde2f8","#9cc2f0","#3b7ed6","#fbc4c4","#f7a0a0","#ff1a1a"]},"legend":{"title":null,"symbolType":"M-2,0L2,0","labelExpr":"slice(datum.label,0,-2)+' (%) FOR A '+slice(datum.label,-2)+'% WINDOW SIZE'"}},
      "strokeDash":{"field":"s","type":"nominal","scale":{"domain":["DA30","DA45","DA60","DAp30","DAp45","DAp60"],"range":[[1,0],[1,0],[1,0],[13,9],[13,9],[15,10]]},"legend":{"title":null,"symbolType":"M-2,0L2,0","labelExpr":"slice(datum.label,0,-2)+' (%) FOR A '+slice(datum.label,-2)+'% WINDOW SIZE'"}},
      "strokeWidth":{"field":"s","type":"nominal","scale":{"type":"ordinal","domain":["DA30","DA45","DA60","DAp30","DAp45","DAp60"],"range":[2.8,3.2,4.6,3.2,3.7,5.5]},"legend":{"title":null,"symbolType":"M-2,0L2,0","labelExpr":"slice(datum.label,0,-2)+' (%) FOR A '+slice(datum.label,-2)+'% WINDOW SIZE'"}}}}
   ]},
  {"title":"D_500MS","width":872,"height":462,"layer":[
    {"data":{"values":[{}]},"mark":{"type":"rect","fill":"#ffffff","stroke":"#7a7a7a","strokeWidth":2.8},"encoding":{"x":{"datum":0,"type":"quantitative","scale":{"domain":[-0.19,6.19],"nice":false,"zero":false}},"x2":{"datum":6},"y":{"datum":0,"type":"quantitative","scale":{"domain":[-6.8,106.8],"nice":false,"zero":false}},"y2":{"datum":100}}},
    {"data":{"name":"g5"},"mark":{"type":"rule","stroke":"#eeeeee","strokeWidth":1.8},"encoding":{"x":{"datum":0,"type":"quantitative","scale":{"domain":[-0.19,6.19],"nice":false,"zero":false}},"x2":{"datum":6},"y":{"field":"g","type":"quantitative","scale":{"domain":[-6.8,106.8],"nice":false,"zero":false}}}},
    {"data":{"name":"g10"},"mark":{"type":"rule","stroke":"#dedede","strokeWidth":3.2},"encoding":{"x":{"datum":0,"type":"quantitative","scale":{"domain":[-0.19,6.19],"nice":false,"zero":false}},"x2":{"datum":6},"y":{"field":"g","type":"quantitative","scale":{"domain":[-6.8,106.8],"nice":false,"zero":false}}}},
    {"data":{"name":"D_500MS"},"mark":{"type":"line"},"encoding":{
      "x":{"field":"x","type":"quantitative","scale":{"domain":[-0.19,6.19],"nice":false,"zero":false},"axis":{"values":[0,1,2,3,4,5,6],"format":".1f","title":null}},
      "y":{"field":"y","type":"quantitative","scale":{"domain":[-6.8,106.8],"nice":false,"zero":false},"axis":{"values":[0,20,40,60,80,100],"title":null}},
      "color":{"field":"s","type":"nominal","scale":{"domain":["DA30","DA45","DA60","DAp30","DAp45","DAp60"],"range":["#cde2f8","#9cc2f0","#3b7ed6","#fbc4c4","#f7a0a0","#ff1a1a"]},"legend":{"title":null,"symbolType":"M-2,0L2,0","labelExpr":"slice(datum.label,0,-2)+' (%) FOR A '+slice(datum.label,-2)+'% WINDOW SIZE'"}},
      "strokeDash":{"field":"s","type":"nominal","scale":{"domain":["DA30","DA45","DA60","DAp30","DAp45","DAp60"],"range":[[1,0],[1,0],[1,0],[13,9],[13,9],[15,10]]},"legend":{"title":null,"symbolType":"M-2,0L2,0","labelExpr":"slice(datum.label,0,-2)+' (%) FOR A '+slice(datum.label,-2)+'% WINDOW SIZE'"}},
      "strokeWidth":{"field":"s","type":"nominal","scale":{"type":"ordinal","domain":["DA30","DA45","DA60","DAp30","DAp45","DAp60"],"range":[2.8,3.2,4.6,3.2,3.7,5.5]},"legend":{"title":null,"symbolType":"M-2,0L2,0","labelExpr":"slice(datum.label,0,-2)+' (%) FOR A '+slice(datum.label,-2)+'% WINDOW SIZE'"}}}}
   ]},
  {"title":"D_500LS","width":872,"height":462,"layer":[
    {"data":{"values":[{}]},"mark":{"type":"rect","fill":"#ffffff","stroke":"#7a7a7a","strokeWidth":2.8},"encoding":{"x":{"datum":0,"type":"quantitative","scale":{"domain":[-0.19,6.19],"nice":false,"zero":false}},"x2":{"datum":6},"y":{"datum":0,"type":"quantitative","scale":{"domain":[-6.8,106.8],"nice":false,"zero":false}},"y2":{"datum":100}}},
    {"data":{"name":"g5"},"mark":{"type":"rule","stroke":"#eeeeee","strokeWidth":1.8},"encoding":{"x":{"datum":0,"type":"quantitative","scale":{"domain":[-0.19,6.19],"nice":false,"zero":false}},"x2":{"datum":6},"y":{"field":"g","type":"quantitative","scale":{"domain":[-6.8,106.8],"nice":false,"zero":false}}}},
    {"data":{"name":"g10"},"mark":{"type":"rule","stroke":"#dedede","strokeWidth":3.2},"encoding":{"x":{"datum":0,"type":"quantitative","scale":{"domain":[-0.19,6.19],"nice":false,"zero":false}},"x2":{"datum":6},"y":{"field":"g","type":"quantitative","scale":{"domain":[-6.8,106.8],"nice":false,"zero":false}}}},
    {"data":{"name":"D_500LS"},"mark":{"type":"line"},"encoding":{
      "x":{"field":"x","type":"quantitative","scale":{"domain":[-0.19,6.19],"nice":false,"zero":false},"axis":{"values":[0,1,2,3,4,5,6],"format":".1f","title":null}},
      "y":{"field":"y","type":"quantitative","scale":{"domain":[-6.8,106.8],"nice":false,"zero":false},"axis":{"values":[0,20,40,60,80,100],"title":null}},
      "color":{"field":"s","type":"nominal","scale":{"domain":["DA30","DA45","DA60","DAp30","DAp45","DAp60"],"range":["#cde2f8","#9cc2f0","#3b7ed6","#fbc4c4","#f7a0a0","#ff1a1a"]},"legend":{"title":null,"symbolType":"M-2,0L2,0","labelExpr":"slice(datum.label,0,-2)+' (%) FOR A '+slice(datum.label,-2)+'% WINDOW SIZE'"}},
      "strokeDash":{"field":"s","type":"nominal","scale":{"domain":["DA30","DA45","DA60","DAp30","DAp45","DAp60"],"range":[[1,0],[1,0],[1,0],[13,9],[13,9],[15,10]]},"legend":{"title":null,"symbolType":"M-2,0L2,0","labelExpr":"slice(datum.label,0,-2)+' (%) FOR A '+slice(datum.label,-2)+'% WINDOW SIZE'"}},
      "strokeWidth":{"field":"s","type":"nominal","scale":{"type":"ordinal","domain":["DA30","DA45","DA60","DAp30","DAp45","DAp60"],"range":[2.8,3.2,4.6,3.2,3.7,5.5]},"legend":{"title":null,"symbolType":"M-2,0L2,0","labelExpr":"slice(datum.label,0,-2)+' (%) FOR A '+slice(datum.label,-2)+'% WINDOW SIZE'"}}}}
   ]}
 ]}
],
"datasets": {
"g5": [{"g":5},{"g":15},{"g":25},{"g":35},{"g":45},{"g":55},{"g":65},{"g":75},{"g":85},{"g":95}],
"g10": [{"g":10},{"g":20},{"g":30},{"g":40},{"g":50},{"g":60},{"g":70},{"g":80},{"g":90}],
"B_300MN": [
{"s":"DA30","x":0.4,"y":93},{"s":"DA30","x":0.8,"y":92.2},{"s":"DA30","x":1.2,"y":91.4},{"s":"DA30","x":1.6,"y":90.4},{"s":"DA30","x":2,"y":89.9},{"s":"DA30","x":2.4,"y":89.4},{"s":"DA30","x":2.8,"y":88.9},{"s":"DA30","x":3.2,"y":87.9},{"s":"DA30","x":3.6,"y":86.9},{"s":"DA30","x":4,"y":85.9},{"s":"DA30","x":4.4,"y":84.3},{"s":"DA30","x":4.8,"y":83},{"s":"DA30","x":5.2,"y":82.8},{"s":"DA30","x":5.6,"y":82.8},
{"s":"DAp30","x":0.4,"y":92},{"s":"DAp30","x":0.8,"y":91.2},{"s":"DAp30","x":1.2,"y":90.4},{"s":"DAp30","x":1.6,"y":89.4},{"s":"DAp30","x":2,"y":88.4},{"s":"DAp30","x":2.4,"y":87.4},{"s":"DAp30","x":2.8,"y":86.9},{"s":"DAp30","x":3.2,"y":85.4},{"s":"DAp30","x":3.6,"y":84.3},{"s":"DAp30","x":4,"y":81.8},{"s":"DAp30","x":4.4,"y":79.8},{"s":"DAp30","x":4.8,"y":78},{"s":"DAp30","x":5.2,"y":77.8},{"s":"DAp30","x":5.6,"y":77.8},
{"s":"DA45","x":0.4,"y":93.4},{"s":"DA45","x":0.8,"y":92.9},{"s":"DA45","x":1.2,"y":92.4},{"s":"DA45","x":1.6,"y":91.9},{"s":"DA45","x":2,"y":91.7},{"s":"DA45","x":2.4,"y":91.4},{"s":"DA45","x":2.8,"y":90.9},{"s":"DA45","x":3.2,"y":90.4},{"s":"DA45","x":3.6,"y":89.9},{"s":"DA45","x":4,"y":89.4},{"s":"DA45","x":4.4,"y":89.1},{"s":"DA45","x":4.8,"y":89.1},{"s":"DA45","x":5.2,"y":89},{"s":"DA45","x":5.6,"y":89},
{"s":"DAp45","x":0.4,"y":92.4},{"s":"DAp45","x":0.8,"y":91.6},{"s":"DAp45","x":1.2,"y":90.9},{"s":"DAp45","x":1.6,"y":90.1},{"s":"DAp45","x":2,"y":89.2},{"s":"DAp45","x":2.4,"y":88.9},{"s":"DAp45","x":2.8,"y":88.4},{"s":"DAp45","x":3.2,"y":87.9},{"s":"DAp45","x":3.6,"y":87.4},{"s":"DAp45","x":4,"y":86.4},{"s":"DAp45","x":4.4,"y":85.9},{"s":"DAp45","x":4.8,"y":85.7},{"s":"DAp45","x":5.2,"y":85.7},{"s":"DAp45","x":5.6,"y":85.7},
{"s":"DA60","x":0.4,"y":94.1},{"s":"DA60","x":0.8,"y":94.1},{"s":"DA60","x":1.2,"y":93.9},{"s":"DA60","x":1.6,"y":93},{"s":"DA60","x":2,"y":92.7},{"s":"DA60","x":2.4,"y":92},{"s":"DA60","x":2.8,"y":92},{"s":"DA60","x":3.2,"y":91.9},{"s":"DA60","x":3.6,"y":91.4},{"s":"DA60","x":4,"y":91},{"s":"DA60","x":4.4,"y":91},{"s":"DA60","x":4.8,"y":91},{"s":"DA60","x":5.2,"y":91},{"s":"DA60","x":5.6,"y":91},
{"s":"DAp60","x":0.4,"y":92.9},{"s":"DAp60","x":0.8,"y":92},{"s":"DAp60","x":1.2,"y":91.5},{"s":"DAp60","x":1.6,"y":90.9},{"s":"DAp60","x":2,"y":89.9},{"s":"DAp60","x":2.4,"y":89.5},{"s":"DAp60","x":2.8,"y":89},{"s":"DAp60","x":3.2,"y":88.9},{"s":"DAp60","x":3.6,"y":88.7},{"s":"DAp60","x":4,"y":88.4},{"s":"DAp60","x":4.4,"y":88},{"s":"DAp60","x":4.8,"y":88},{"s":"DAp60","x":5.2,"y":88},{"s":"DAp60","x":5.6,"y":88}
],
"D_300MN": [
{"s":"DA30","x":0.4,"y":92.4},{"s":"DA30","x":0.8,"y":92},{"s":"DA30","x":1.2,"y":91.5},{"s":"DA30","x":1.6,"y":90.4},{"s":"DA30","x":2,"y":89.7},{"s":"DA30","x":2.4,"y":87.8},{"s":"DA30","x":2.8,"y":84.3},{"s":"DA30","x":3.2,"y":79.8},{"s":"DA30","x":3.6,"y":68.6},{"s":"DA30","x":4,"y":42.3},{"s":"DA30","x":4.4,"y":21},{"s":"DA30","x":4.8,"y":5.9},{"s":"DA30","x":5.2,"y":0.6},{"s":"DA30","x":5.6,"y":0.4},
{"s":"DAp30","x":0.4,"y":90.4},{"s":"DAp30","x":0.8,"y":90.4},{"s":"DAp30","x":1.2,"y":89.9},{"s":"DAp30","x":1.6,"y":89.4},{"s":"DAp30","x":2,"y":88.4},{"s":"DAp30","x":2.4,"y":85.8},{"s":"DAp30","x":2.8,"y":81.8},{"s":"DAp30","x":3.2,"y":75.7},{"s":"DAp30","x":3.6,"y":63.6},{"s":"DAp30","x":4,"y":38},{"s":"DAp30","x":4.4,"y":19},{"s":"DAp30","x":4.8,"y":6.4},{"s":"DAp30","x":5.2,"y":0.6},{"s":"DAp30","x":5.6,"y":0.4},
{"s":"DA45","x":0.4,"y":93},{"s":"DA45","x":0.8,"y":92.7},{"s":"DA45","x":1.2,"y":92},{"s":"DA45","x":1.6,"y":91.4},{"s":"DA45","x":2,"y":91},{"s":"DA45","x":2.4,"y":90},{"s":"DA45","x":2.8,"y":89},{"s":"DA45","x":3.2,"y":87.3},{"s":"DA45","x":3.6,"y":84.8},{"s":"DA45","x":4,"y":79.8},{"s":"DA45","x":4.4,"y":71.7},{"s":"DA45","x":4.8,"y":56},{"s":"DA45","x":5.2,"y":57},{"s":"DA45","x":5.6,"y":63},
{"s":"DAp45","x":0.4,"y":91},{"s":"DAp45","x":0.8,"y":91},{"s":"DAp45","x":1.2,"y":90.4},{"s":"DAp45","x":1.6,"y":89.7},{"s":"DAp45","x":2,"y":89},{"s":"DAp45","x":2.4,"y":87.8},{"s":"DAp45","x":2.8,"y":86.3},{"s":"DAp45","x":3.2,"y":84.3},{"s":"DAp45","x":3.6,"y":79.8},{"s":"DAp45","x":4,"y":73.2},{"s":"DAp45","x":4.4,"y":65.6},{"s":"DAp45","x":4.8,"y":47.9},{"s":"DAp45","x":5.2,"y":47.9},{"s":"DAp45","x":5.6,"y":54},
{"s":"DA60","x":0.4,"y":94.1},{"s":"DA60","x":0.8,"y":94},{"s":"DA60","x":1.2,"y":93},{"s":"DA60","x":1.6,"y":92},{"s":"DA60","x":2,"y":92},{"s":"DA60","x":2.4,"y":91.3},{"s":"DA60","x":2.8,"y":91},{"s":"DA60","x":3.2,"y":89.4},{"s":"DA60","x":3.6,"y":88},{"s":"DA60","x":4,"y":85},{"s":"DA60","x":4.4,"y":81},{"s":"DA60","x":4.8,"y":79},{"s":"DA60","x":5.2,"y":77},{"s":"DA60","x":5.6,"y":77},
{"s":"DAp60","x":0.4,"y":92},{"s":"DAp60","x":0.8,"y":91.7},{"s":"DAp60","x":1.2,"y":91},{"s":"DAp60","x":1.6,"y":90},{"s":"DAp60","x":2,"y":89.7},{"s":"DAp60","x":2.4,"y":88.5},{"s":"DAp60","x":2.8,"y":87.8},{"s":"DAp60","x":3.2,"y":86.6},{"s":"DAp60","x":3.6,"y":84.8},{"s":"DAp60","x":4,"y":82},{"s":"DAp60","x":4.4,"y":74.7},{"s":"DAp60","x":4.8,"y":72.7},{"s":"DAp60","x":5.2,"y":69.6},{"s":"DAp60","x":5.6,"y":69.6}
],
"B_300MS": [
{"s":"DA30","x":0.4,"y":92},{"s":"DA30","x":0.8,"y":91.5},{"s":"DA30","x":1.2,"y":91},{"s":"DA30","x":1.6,"y":90.5},{"s":"DA30","x":2,"y":90},{"s":"DA30","x":2.4,"y":89.5},{"s":"DA30","x":2.8,"y":89},{"s":"DA30","x":3.2,"y":88.5},{"s":"DA30","x":3.6,"y":88},{"s":"DA30","x":4,"y":87.5},{"s":"DA30","x":4.4,"y":87},{"s":"DA30","x":4.8,"y":86.5},{"s":"DA30","x":5.2,"y":86},{"s":"DA30","x":5.6,"y":86},
{"s":"DAp30","x":0.4,"y":90.5},{"s":"DAp30","x":0.8,"y":90},{"s":"DAp30","x":1.2,"y":89.5},{"s":"DAp30","x":1.6,"y":89},{"s":"DAp30","x":2,"y":88.5},{"s":"DAp30","x":2.4,"y":87.5},{"s":"DAp30","x":2.8,"y":87},{"s":"DAp30","x":3.2,"y":86.5},{"s":"DAp30","x":3.6,"y":85.5},{"s":"DAp30","x":4,"y":85},{"s":"DAp30","x":4.4,"y":84.5},{"s":"DAp30","x":4.8,"y":84},{"s":"DAp30","x":5.2,"y":83.5},{"s":"DAp30","x":5.6,"y":83.5},
{"s":"DA45","x":0.4,"y":92.5},{"s":"DA45","x":0.8,"y":92},{"s":"DA45","x":1.2,"y":91.5},{"s":"DA45","x":1.6,"y":91},{"s":"DA45","x":2,"y":90.5},{"s":"DA45","x":2.4,"y":90},{"s":"DA45","x":2.8,"y":89.5},{"s":"DA45","x":3.2,"y":89.5},{"s":"DA45","x":3.6,"y":89},{"s":"DA45","x":4,"y":89},{"s":"DA45","x":4.4,"y":88.5},{"s":"DA45","x":4.8,"y":88},{"s":"DA45","x":5.2,"y":88},{"s":"DA45","x":5.6,"y":88},
{"s":"DAp45","x":0.4,"y":91},{"s":"DAp45","x":0.8,"y":90.5},{"s":"DAp45","x":1.2,"y":90},{"s":"DAp45","x":1.6,"y":89.5},{"s":"DAp45","x":2,"y":89},{"s":"DAp45","x":2.4,"y":88.5},{"s":"DAp45","x":2.8,"y":88},{"s":"DAp45","x":3.2,"y":87.5},{"s":"DAp45","x":3.6,"y":87},{"s":"DAp45","x":4,"y":86.5},{"s":"DAp45","x":4.4,"y":86},{"s":"DAp45","x":4.8,"y":85.5},{"s":"DAp45","x":5.2,"y":85.5},{"s":"DAp45","x":5.6,"y":85.5},
{"s":"DA60","x":0.4,"y":93},{"s":"DA60","x":0.8,"y":93},{"s":"DA60","x":1.2,"y":92.5},{"s":"DA60","x":1.6,"y":92.5},{"s":"DA60","x":2,"y":92},{"s":"DA60","x":2.4,"y":91.5},{"s":"DA60","x":2.8,"y":91},{"s":"DA60","x":3.2,"y":91},{"s":"DA60","x":3.6,"y":90.5},{"s":"DA60","x":4,"y":90.5},{"s":"DA60","x":4.4,"y":90},{"s":"DA60","x":4.8,"y":89.5},{"s":"DA60","x":5.2,"y":89.5},{"s":"DA60","x":5.6,"y":89.5},
{"s":"DAp60","x":0.4,"y":91.5},{"s":"DAp60","x":0.8,"y":91},{"s":"DAp60","x":1.2,"y":90.5},{"s":"DAp60","x":1.6,"y":90},{"s":"DAp60","x":2,"y":89.5},{"s":"DAp60","x":2.4,"y":89},{"s":"DAp60","x":2.8,"y":88.5},{"s":"DAp60","x":3.2,"y":88.5},{"s":"DAp60","x":3.6,"y":88},{"s":"DAp60","x":4,"y":87.5},{"s":"DAp60","x":4.4,"y":87},{"s":"DAp60","x":4.8,"y":87},{"s":"DAp60","x":5.2,"y":87},{"s":"DAp60","x":5.6,"y":87}
],
"D_300MS": [
{"s":"DA30","x":0.4,"y":92.5},{"s":"DA30","x":0.8,"y":92},{"s":"DA30","x":1.2,"y":91.5},{"s":"DA30","x":1.6,"y":90.5},{"s":"DA30","x":2,"y":89.5},{"s":"DA30","x":2.4,"y":88},{"s":"DA30","x":2.8,"y":86.5},{"s":"DA30","x":3.2,"y":84},{"s":"DA30","x":3.6,"y":80},{"s":"DA30","x":4,"y":76},{"s":"DA30","x":4.4,"y":70},{"s":"DA30","x":4.8,"y":63},{"s":"DA30","x":5.2,"y":53},{"s":"DA30","x":5.6,"y":59},
{"s":"DAp30","x":0.4,"y":91},{"s":"DAp30","x":0.8,"y":90.5},{"s":"DAp30","x":1.2,"y":89.5},{"s":"DAp30","x":1.6,"y":88.5},{"s":"DAp30","x":2,"y":87.5},{"s":"DAp30","x":2.4,"y":86},{"s":"DAp30","x":2.8,"y":84},{"s":"DAp30","x":3.2,"y":81},{"s":"DAp30","x":3.6,"y":77},{"s":"DAp30","x":4,"y":73},{"s":"DAp30","x":4.4,"y":67},{"s":"DAp30","x":4.8,"y":60},{"s":"DAp30","x":5.2,"y":52},{"s":"DAp30","x":5.6,"y":57},
{"s":"DA45","x":0.4,"y":93},{"s":"DA45","x":0.8,"y":93},{"s":"DA45","x":1.2,"y":92.5},{"s":"DA45","x":1.6,"y":91.5},{"s":"DA45","x":2,"y":91},{"s":"DA45","x":2.4,"y":90},{"s":"DA45","x":2.8,"y":89},{"s":"DA45","x":3.2,"y":87.5},{"s":"DA45","x":3.6,"y":85.5},{"s":"DA45","x":4,"y":83},{"s":"DA45","x":4.4,"y":80},{"s":"DA45","x":4.8,"y":77},{"s":"DA45","x":5.2,"y":76},{"s":"DA45","x":5.6,"y":76},
{"s":"DAp45","x":0.4,"y":91.5},{"s":"DAp45","x":0.8,"y":91},{"s":"DAp45","x":1.2,"y":90.5},{"s":"DAp45","x":1.6,"y":89.5},{"s":"DAp45","x":2,"y":89},{"s":"DAp45","x":2.4,"y":88},{"s":"DAp45","x":2.8,"y":86.5},{"s":"DAp45","x":3.2,"y":85},{"s":"DAp45","x":3.6,"y":82},{"s":"DAp45","x":4,"y":79},{"s":"DAp45","x":4.4,"y":76},{"s":"DAp45","x":4.8,"y":73},{"s":"DAp45","x":5.2,"y":72},{"s":"DAp45","x":5.6,"y":72},
{"s":"DA60","x":0.4,"y":93.5},{"s":"DA60","x":0.8,"y":93.5},{"s":"DA60","x":1.2,"y":93},{"s":"DA60","x":1.6,"y":92},{"s":"DA60","x":2,"y":91.5},{"s":"DA60","x":2.4,"y":91},{"s":"DA60","x":2.8,"y":90},{"s":"DA60","x":3.2,"y":89},{"s":"DA60","x":3.6,"y":88},{"s":"DA60","x":4,"y":87},{"s":"DA60","x":4.4,"y":86},{"s":"DA60","x":4.8,"y":85},{"s":"DA60","x":5.2,"y":83.5},{"s":"DA60","x":5.6,"y":82},
{"s":"DAp60","x":0.4,"y":92},{"s":"DAp60","x":0.8,"y":91.5},{"s":"DAp60","x":1.2,"y":91},{"s":"DAp60","x":1.6,"y":90},{"s":"DAp60","x":2,"y":89.5},{"s":"DAp60","x":2.4,"y":89},{"s":"DAp60","x":2.8,"y":88},{"s":"DAp60","x":3.2,"y":87},{"s":"DAp60","x":3.6,"y":85},{"s":"DAp60","x":4,"y":83},{"s":"DAp60","x":4.4,"y":81},{"s":"DAp60","x":4.8,"y":79},{"s":"DAp60","x":5.2,"y":78},{"s":"DAp60","x":5.6,"y":78}
],
"B_300LN": [
{"s":"DA30","x":0.4,"y":90.2},{"s":"DA30","x":0.8,"y":89.2},{"s":"DA30","x":1.2,"y":87.7},{"s":"DA30","x":1.6,"y":85.7},{"s":"DA30","x":2,"y":82.7},{"s":"DA30","x":2.4,"y":79.7},{"s":"DA30","x":2.8,"y":76.7},{"s":"DA30","x":3.2,"y":74.1},{"s":"DA30","x":3.6,"y":71.6},{"s":"DA30","x":4,"y":68.6},{"s":"DA30","x":4.4,"y":66.8},{"s":"DA30","x":4.8,"y":65.1},{"s":"DA30","x":5.2,"y":64.1},{"s":"DA30","x":5.6,"y":65.1},
{"s":"DAp30","x":0.4,"y":84.9},{"s":"DAp30","x":0.8,"y":84.9},{"s":"DAp30","x":1.2,"y":84.2},{"s":"DAp30","x":1.6,"y":81.7},{"s":"DAp30","x":2,"y":77.7},{"s":"DAp30","x":2.4,"y":73.1},{"s":"DAp30","x":2.8,"y":69.1},{"s":"DAp30","x":3.2,"y":65.6},{"s":"DAp30","x":3.6,"y":62.6},{"s":"DAp30","x":4,"y":60.1},{"s":"DAp30","x":4.4,"y":57.5},{"s":"DAp30","x":4.8,"y":55},{"s":"DAp30","x":5.2,"y":54},{"s":"DAp30","x":5.6,"y":56},
{"s":"DA45","x":0.4,"y":90.9},{"s":"DA45","x":0.8,"y":90.2},{"s":"DA45","x":1.2,"y":89.2},{"s":"DA45","x":1.6,"y":88.2},{"s":"DA45","x":2,"y":86.7},{"s":"DA45","x":2.4,"y":84.7},{"s":"DA45","x":2.8,"y":82.7},{"s":"DA45","x":3.2,"y":81.2},{"s":"DA45","x":3.6,"y":79.2},{"s":"DA45","x":4,"y":77.7},{"s":"DA45","x":4.4,"y":76.2},{"s":"DA45","x":4.8,"y":74.8},{"s":"DA45","x":5.2,"y":74.6},{"s":"DA45","x":5.6,"y":75.7},
{"s":"DAp45","x":0.4,"y":87.9},{"s":"DAp45","x":0.8,"y":87.2},{"s":"DAp45","x":1.2,"y":86.2},{"s":"DAp45","x":1.6,"y":84.7},{"s":"DAp45","x":2,"y":82.2},{"s":"DAp45","x":2.4,"y":79.7},{"s":"DAp45","x":2.8,"y":77.2},{"s":"DAp45","x":3.2,"y":74.6},{"s":"DAp45","x":3.6,"y":72.1},{"s":"DAp45","x":4,"y":70.6},{"s":"DAp45","x":4.4,"y":69.1},{"s":"DAp45","x":4.8,"y":68.1},{"s":"DAp45","x":5.2,"y":68.1},{"s":"DAp45","x":5.6,"y":68.6},
{"s":"DA60","x":0.4,"y":92},{"s":"DA60","x":0.8,"y":90.9},{"s":"DA60","x":1.2,"y":89.9},{"s":"DA60","x":1.6,"y":88.9},{"s":"DA60","x":2,"y":87.7},{"s":"DA60","x":2.4,"y":86.7},{"s":"DA60","x":2.8,"y":84.9},{"s":"DA60","x":3.2,"y":83.7},{"s":"DA60","x":3.6,"y":82.2},{"s":"DA60","x":4,"y":81.2},{"s":"DA60","x":4.4,"y":80.1},{"s":"DA60","x":4.8,"y":78.9},{"s":"DA60","x":5.2,"y":78.7},{"s":"DA60","x":5.6,"y":79.9},
{"s":"DAp60","x":0.4,"y":88.9},{"s":"DAp60","x":0.8,"y":87.9},{"s":"DAp60","x":1.2,"y":86.9},{"s":"DAp60","x":1.6,"y":85.7},{"s":"DAp60","x":2,"y":83.7},{"s":"DAp60","x":2.4,"y":82.7},{"s":"DAp60","x":2.8,"y":81.2},{"s":"DAp60","x":3.2,"y":79.2},{"s":"DAp60","x":3.6,"y":77.2},{"s":"DAp60","x":4,"y":75.1},{"s":"DAp60","x":4.4,"y":73.6},{"s":"DAp60","x":4.8,"y":72.6},{"s":"DAp60","x":5.2,"y":72.6},{"s":"DAp60","x":5.6,"y":73.6}
],
"D_300LN": [
{"s":"DA30","x":0.4,"y":88.1},{"s":"DA30","x":0.8,"y":87.1},{"s":"DA30","x":1.2,"y":85.6},{"s":"DA30","x":1.6,"y":83.6},{"s":"DA30","x":2,"y":78.6},{"s":"DA30","x":2.4,"y":72.6},{"s":"DA30","x":2.8,"y":66.5},{"s":"DA30","x":3.2,"y":58.5},{"s":"DA30","x":3.6,"y":48.4},{"s":"DA30","x":4,"y":30.4},{"s":"DA30","x":4.4,"y":16.3},{"s":"DA30","x":4.8,"y":3.7},{"s":"DA30","x":5.2,"y":1},{"s":"DA30","x":5.6,"y":0},
{"s":"DAp30","x":0.4,"y":83.6},{"s":"DAp30","x":0.8,"y":83.6},{"s":"DAp30","x":1.2,"y":82.6},{"s":"DAp30","x":1.6,"y":80.6},{"s":"DAp30","x":2,"y":76.6},{"s":"DAp30","x":2.4,"y":70.6},{"s":"DAp30","x":2.8,"y":63.5},{"s":"DAp30","x":3.2,"y":54.5},{"s":"DAp30","x":3.6,"y":43.4},{"s":"DAp30","x":4,"y":27.3},{"s":"DAp30","x":4.4,"y":14.3},{"s":"DAp30","x":4.8,"y":3.2},{"s":"DAp30","x":5.2,"y":0.7},{"s":"DAp30","x":5.6,"y":0},
{"s":"DA45","x":0.4,"y":89.8},{"s":"DA45","x":0.8,"y":89.1},{"s":"DA45","x":1.2,"y":88.1},{"s":"DA45","x":1.6,"y":87.1},{"s":"DA45","x":2,"y":83.6},{"s":"DA45","x":2.4,"y":79.6},{"s":"DA45","x":2.8,"y":75},{"s":"DA45","x":3.2,"y":70.6},{"s":"DA45","x":3.6,"y":66},{"s":"DA45","x":4,"y":58.5},{"s":"DA45","x":4.4,"y":49.4},{"s":"DA45","x":4.8,"y":40.9},{"s":"DA45","x":5.2,"y":37.9},{"s":"DA45","x":5.6,"y":39.9},
{"s":"DAp45","x":0.4,"y":87.8},{"s":"DAp45","x":0.8,"y":86.8},{"s":"DAp45","x":1.2,"y":85.6},{"s":"DAp45","x":1.6,"y":83.6},{"s":"DAp45","x":2,"y":79.6},{"s":"DAp45","x":2.4,"y":74.6},{"s":"DAp45","x":2.8,"y":69.5},{"s":"DAp45","x":3.2,"y":64.5},{"s":"DAp45","x":3.6,"y":58.5},{"s":"DAp45","x":4,"y":50.5},{"s":"DAp45","x":4.4,"y":42.4},{"s":"DAp45","x":4.8,"y":30.4},{"s":"DAp45","x":5.2,"y":26.8},{"s":"DAp45","x":5.6,"y":28.3},
{"s":"DA60","x":0.4,"y":90.9},{"s":"DA60","x":0.8,"y":89.8},{"s":"DA60","x":1.2,"y":88.8},{"s":"DA60","x":1.6,"y":88.1},{"s":"DA60","x":2,"y":86.1},{"s":"DA60","x":2.4,"y":82.6},{"s":"DA60","x":2.8,"y":79.8},{"s":"DA60","x":3.2,"y":77.8},{"s":"DA60","x":3.6,"y":70.6},{"s":"DA60","x":4,"y":66},{"s":"DA60","x":4.4,"y":62},{"s":"DA60","x":4.8,"y":58},{"s":"DA60","x":5.2,"y":53},{"s":"DA60","x":5.6,"y":53},
{"s":"DAp60","x":0.4,"y":88.6},{"s":"DAp60","x":0.8,"y":86.8},{"s":"DAp60","x":1.2,"y":85.6},{"s":"DAp60","x":1.6,"y":84.1},{"s":"DAp60","x":2,"y":82.6},{"s":"DAp60","x":2.4,"y":79},{"s":"DAp60","x":2.8,"y":73.6},{"s":"DAp60","x":3.2,"y":68},{"s":"DAp60","x":3.6,"y":64.5},{"s":"DAp60","x":4,"y":60},{"s":"DAp60","x":4.4,"y":53.5},{"s":"DAp60","x":4.8,"y":48.4},{"s":"DAp60","x":5.2,"y":43.4},{"s":"DAp60","x":5.6,"y":43.6}
],
"B_300LS": [
{"s":"DA30","x":0.4,"y":88},{"s":"DA30","x":0.8,"y":87.5},{"s":"DA30","x":1.2,"y":86.5},{"s":"DA30","x":1.6,"y":85},{"s":"DA30","x":2,"y":83.5},{"s":"DA30","x":2.4,"y":82},{"s":"DA30","x":2.8,"y":80},{"s":"DA30","x":3.2,"y":78},{"s":"DA30","x":3.6,"y":76.5},{"s":"DA30","x":4,"y":74.5},{"s":"DA30","x":4.4,"y":73},{"s":"DA30","x":4.8,"y":71.5},{"s":"DA30","x":5.2,"y":70.5},{"s":"DA30","x":5.6,"y":70.5},
{"s":"DAp30","x":0.4,"y":85},{"s":"DAp30","x":0.8,"y":84.5},{"s":"DAp30","x":1.2,"y":83.5},{"s":"DAp30","x":1.6,"y":82},{"s":"DAp30","x":2,"y":80},{"s":"DAp30","x":2.4,"y":78},{"s":"DAp30","x":2.8,"y":75.5},{"s":"DAp30","x":3.2,"y":73.5},{"s":"DAp30","x":3.6,"y":71.5},{"s":"DAp30","x":4,"y":69.5},{"s":"DAp30","x":4.4,"y":67.5},{"s":"DAp30","x":4.8,"y":66},{"s":"DAp30","x":5.2,"y":65},{"s":"DAp30","x":5.6,"y":65},
{"s":"DA45","x":0.4,"y":89.5},{"s":"DA45","x":0.8,"y":89},{"s":"DA45","x":1.2,"y":88},{"s":"DA45","x":1.6,"y":87},{"s":"DA45","x":2,"y":86},{"s":"DA45","x":2.4,"y":85},{"s":"DA45","x":2.8,"y":83.5},{"s":"DA45","x":3.2,"y":82.5},{"s":"DA45","x":3.6,"y":81},{"s":"DA45","x":4,"y":80},{"s":"DA45","x":4.4,"y":78.5},{"s":"DA45","x":4.8,"y":77.5},{"s":"DA45","x":5.2,"y":77},{"s":"DA45","x":5.6,"y":77},
{"s":"DAp45","x":0.4,"y":87},{"s":"DAp45","x":0.8,"y":86.5},{"s":"DAp45","x":1.2,"y":85.5},{"s":"DAp45","x":1.6,"y":84.5},{"s":"DAp45","x":2,"y":83},{"s":"DAp45","x":2.4,"y":81.5},{"s":"DAp45","x":2.8,"y":80},{"s":"DAp45","x":3.2,"y":78.5},{"s":"DAp45","x":3.6,"y":77},{"s":"DAp45","x":4,"y":75.5},{"s":"DAp45","x":4.4,"y":74},{"s":"DAp45","x":4.8,"y":73},{"s":"DAp45","x":5.2,"y":72.5},{"s":"DAp45","x":5.6,"y":72.5},
{"s":"DA60","x":0.4,"y":90.5},{"s":"DA60","x":0.8,"y":90},{"s":"DA60","x":1.2,"y":89},{"s":"DA60","x":1.6,"y":88},{"s":"DA60","x":2,"y":87},{"s":"DA60","x":2.4,"y":86},{"s":"DA60","x":2.8,"y":85},{"s":"DA60","x":3.2,"y":84},{"s":"DA60","x":3.6,"y":83.5},{"s":"DA60","x":4,"y":82.5},{"s":"DA60","x":4.4,"y":81.5},{"s":"DA60","x":4.8,"y":80.5},{"s":"DA60","x":5.2,"y":80},{"s":"DA60","x":5.6,"y":80},
{"s":"DAp60","x":0.4,"y":88.5},{"s":"DAp60","x":0.8,"y":88},{"s":"DAp60","x":1.2,"y":87},{"s":"DAp60","x":1.6,"y":86},{"s":"DAp60","x":2,"y":85},{"s":"DAp60","x":2.4,"y":84},{"s":"DAp60","x":2.8,"y":82.5},{"s":"DAp60","x":3.2,"y":81},{"s":"DAp60","x":3.6,"y":80},{"s":"DAp60","x":4,"y":78.5},{"s":"DAp60","x":4.4,"y":77.5},{"s":"DAp60","x":4.8,"y":76.5},{"s":"DAp60","x":5.2,"y":76},{"s":"DAp60","x":5.6,"y":76}
],
"D_300LS": [
{"s":"DA30","x":0.4,"y":88.2},{"s":"DA30","x":0.8,"y":87.2},{"s":"DA30","x":1.2,"y":85.7},{"s":"DA30","x":1.6,"y":83.7},{"s":"DA30","x":2,"y":81.2},{"s":"DA30","x":2.4,"y":77.7},{"s":"DA30","x":2.8,"y":73.6},{"s":"DA30","x":3.2,"y":69.1},{"s":"DA30","x":3.6,"y":63.6},{"s":"DA30","x":4,"y":58},{"s":"DA30","x":4.4,"y":55},{"s":"DA30","x":4.8,"y":52},{"s":"DA30","x":5.2,"y":45},{"s":"DA30","x":5.6,"y":45},
{"s":"DAp30","x":0.4,"y":84.9},{"s":"DAp30","x":0.8,"y":84.9},{"s":"DAp30","x":1.2,"y":84.2},{"s":"DAp30","x":1.6,"y":81.7},{"s":"DAp30","x":2,"y":77.1},{"s":"DAp30","x":2.4,"y":72.1},{"s":"DAp30","x":2.8,"y":67.6},{"s":"DAp30","x":3.2,"y":62.6},{"s":"DAp30","x":3.6,"y":57.5},{"s":"DAp30","x":4,"y":53},{"s":"DAp30","x":4.4,"y":49.5},{"s":"DAp30","x":4.8,"y":46.5},{"s":"DAp30","x":5.2,"y":41.2},{"s":"DAp30","x":5.6,"y":40.9},
{"s":"DA45","x":0.4,"y":90.9},{"s":"DA45","x":0.8,"y":89.9},{"s":"DA45","x":1.2,"y":88.5},{"s":"DA45","x":1.6,"y":86.9},{"s":"DA45","x":2,"y":84.7},{"s":"DA45","x":2.4,"y":81.7},{"s":"DA45","x":2.8,"y":78.7},{"s":"DA45","x":3.2,"y":75.7},{"s":"DA45","x":3.6,"y":71.6},{"s":"DA45","x":4,"y":66.6},{"s":"DA45","x":4.4,"y":64.1},{"s":"DA45","x":4.8,"y":61.1},{"s":"DA45","x":5.2,"y":58},{"s":"DA45","x":5.6,"y":58},
{"s":"DAp45","x":0.4,"y":87.7},{"s":"DAp45","x":0.8,"y":87.2},{"s":"DAp45","x":1.2,"y":85.7},{"s":"DAp45","x":1.6,"y":83.7},{"s":"DAp45","x":2,"y":81.2},{"s":"DAp45","x":2.4,"y":77.7},{"s":"DAp45","x":2.8,"y":74.1},{"s":"DAp45","x":3.2,"y":70.6},{"s":"DAp45","x":3.6,"y":66.6},{"s":"DAp45","x":4,"y":61.6},{"s":"DAp45","x":4.4,"y":58.6},{"s":"DAp45","x":4.8,"y":55.5},{"s":"DAp45","x":5.2,"y":52.5},{"s":"DAp45","x":5.6,"y":52},
{"s":"DA60","x":0.4,"y":92},{"s":"DA60","x":0.8,"y":90.9},{"s":"DA60","x":1.2,"y":89.2},{"s":"DA60","x":1.6,"y":87.9},{"s":"DA60","x":2,"y":86.7},{"s":"DA60","x":2.4,"y":84.7},{"s":"DA60","x":2.8,"y":81.7},{"s":"DA60","x":3.2,"y":78.7},{"s":"DA60","x":3.6,"y":75.7},{"s":"DA60","x":4,"y":73.6},{"s":"DA60","x":4.4,"y":69.8},{"s":"DA60","x":4.8,"y":68.6},{"s":"DA60","x":5.2,"y":66.1},{"s":"DA60","x":5.6,"y":65.2},
{"s":"DAp60","x":0.4,"y":88.9},{"s":"DAp60","x":0.8,"y":87.7},{"s":"DAp60","x":1.2,"y":85.9},{"s":"DAp60","x":1.6,"y":84.2},{"s":"DAp60","x":2,"y":82.7},{"s":"DAp60","x":2.4,"y":80.7},{"s":"DAp60","x":2.8,"y":77.7},{"s":"DAp60","x":3.2,"y":72.6},{"s":"DAp60","x":3.6,"y":68.6},{"s":"DAp60","x":4,"y":66.6},{"s":"DAp60","x":4.4,"y":63.6},{"s":"DAp60","x":4.8,"y":61.1},{"s":"DAp60","x":5.2,"y":58.4},{"s":"DAp60","x":5.6,"y":58}
],
"B_500MN": [
{"s":"DA30","x":0.4,"y":92.8},{"s":"DA30","x":0.8,"y":91.8},{"s":"DA30","x":1.2,"y":91.2},{"s":"DA30","x":1.6,"y":90.2},{"s":"DA30","x":2,"y":89.2},{"s":"DA30","x":2.4,"y":87.7},{"s":"DA30","x":2.8,"y":81.7},{"s":"DA30","x":3.2,"y":76.7},{"s":"DA30","x":3.6,"y":71.6},{"s":"DA30","x":4,"y":61.6},{"s":"DA30","x":4.4,"y":51.5},{"s":"DA30","x":4.8,"y":44.5},{"s":"DA30","x":5.2,"y":47.5},{"s":"DA30","x":5.6,"y":55.5},
{"s":"DAp30","x":0.4,"y":90.2},{"s":"DAp30","x":0.8,"y":90.2},{"s":"DAp30","x":1.2,"y":89.7},{"s":"DAp30","x":1.6,"y":88.2},{"s":"DAp30","x":2,"y":85.7},{"s":"DAp30","x":2.4,"y":81.7},{"s":"DAp30","x":2.8,"y":76.7},{"s":"DAp30","x":3.2,"y":70.6},{"s":"DAp30","x":3.6,"y":65.6},{"s":"DAp30","x":4,"y":54.5},{"s":"DAp30","x":4.4,"y":45.5},{"s":"DAp30","x":4.8,"y":37},{"s":"DAp30","x":5.2,"y":38.4},{"s":"DAp30","x":5.6,"y":45.5},
{"s":"DA45","x":0.4,"y":93.6},{"s":"DA45","x":0.8,"y":92.8},{"s":"DA45","x":1.2,"y":92.3},{"s":"DA45","x":1.6,"y":91.8},{"s":"DA45","x":2,"y":90.7},{"s":"DA45","x":2.4,"y":89.7},{"s":"DA45","x":2.8,"y":88.5},{"s":"DA45","x":3.2,"y":87.2},{"s":"DA45","x":3.6,"y":85.7},{"s":"DA45","x":4,"y":83.7},{"s":"DA45","x":4.4,"y":82.5},{"s":"DA45","x":4.8,"y":81.5},{"s":"DA45","x":5.2,"y":81.5},{"s":"DA45","x":5.6,"y":81.5},
{"s":"DAp45","x":0.4,"y":91.2},{"s":"DAp45","x":0.8,"y":90.7},{"s":"DAp45","x":1.2,"y":90.2},{"s":"DAp45","x":1.6,"y":89.7},{"s":"DAp45","x":2,"y":88.9},{"s":"DAp45","x":2.4,"y":86.7},{"s":"DAp45","x":2.8,"y":85},{"s":"DAp45","x":3.2,"y":83.2},{"s":"DAp45","x":3.6,"y":81.2},{"s":"DAp45","x":4,"y":79.1},{"s":"DAp45","x":4.4,"y":77.1},{"s":"DAp45","x":4.8,"y":75.1},{"s":"DAp45","x":5.2,"y":75.1},{"s":"DAp45","x":5.6,"y":75.8},
{"s":"DA60","x":0.4,"y":94.6},{"s":"DA60","x":0.8,"y":93.6},{"s":"DA60","x":1.2,"y":92.8},{"s":"DA60","x":1.6,"y":92.6},{"s":"DA60","x":2,"y":91.8},{"s":"DA60","x":2.4,"y":91.5},{"s":"DA60","x":2.8,"y":90.5},{"s":"DA60","x":3.2,"y":89.5},{"s":"DA60","x":3.6,"y":89.2},{"s":"DA60","x":4,"y":88.5},{"s":"DA60","x":4.4,"y":87.5},{"s":"DA60","x":4.8,"y":87.5},{"s":"DA60","x":5.2,"y":87.5},{"s":"DA60","x":5.6,"y":87.5},
{"s":"DAp60","x":0.4,"y":92.3},{"s":"DAp60","x":0.8,"y":91.2},{"s":"DAp60","x":1.2,"y":90.7},{"s":"DAp60","x":1.6,"y":90.2},{"s":"DAp60","x":2,"y":89.5},{"s":"DAp60","x":2.4,"y":88.2},{"s":"DAp60","x":2.8,"y":87.2},{"s":"DAp60","x":3.2,"y":86.5},{"s":"DAp60","x":3.6,"y":85.5},{"s":"DAp60","x":4,"y":84.5},{"s":"DAp60","x":4.4,"y":83.9},{"s":"DAp60","x":4.8,"y":83.2},{"s":"DAp60","x":5.2,"y":82.5},{"s":"DAp60","x":5.6,"y":83.2}
],
"D_500MN": [
{"s":"DA30","x":0.4,"y":92.3},{"s":"DA30","x":0.8,"y":91.8},{"s":"DA30","x":1.2,"y":91.2},{"s":"DA30","x":1.6,"y":89.7},{"s":"DA30","x":2,"y":84.7},{"s":"DA30","x":2.4,"y":60.6},{"s":"DA30","x":2.8,"y":42.5},{"s":"DA30","x":3.2,"y":26.4},{"s":"DA30","x":3.6,"y":5.7},{"s":"DA30","x":4,"y":0.4},{"s":"DA30","x":4.4,"y":0},{"s":"DA30","x":4.8,"y":0},{"s":"DA30","x":5.2,"y":0},{"s":"DA30","x":5.6,"y":0},
{"s":"DAp30","x":0.4,"y":88.7},{"s":"DAp30","x":0.8,"y":89.2},{"s":"DAp30","x":1.2,"y":88.7},{"s":"DAp30","x":1.6,"y":86.2},{"s":"DAp30","x":2,"y":80.7},{"s":"DAp30","x":2.4,"y":55.5},{"s":"DAp30","x":2.8,"y":38.4},{"s":"DAp30","x":3.2,"y":22.3},{"s":"DAp30","x":3.6,"y":5.2},{"s":"DAp30","x":4,"y":0.4},{"s":"DAp30","x":4.4,"y":0},{"s":"DAp30","x":4.8,"y":0},{"s":"DAp30","x":5.2,"y":0},{"s":"DAp30","x":5.6,"y":0},
{"s":"DA45","x":0.4,"y":92.8},{"s":"DA45","x":0.8,"y":92.3},{"s":"DA45","x":1.2,"y":92},{"s":"DA45","x":1.6,"y":91.2},{"s":"DA45","x":2,"y":89.7},{"s":"DA45","x":2.4,"y":87.2},{"s":"DA45","x":2.8,"y":81.2},{"s":"DA45","x":3.2,"y":61},{"s":"DA45","x":3.6,"y":40},{"s":"DA45","x":4,"y":19},{"s":"DA45","x":4.4,"y":6.2},{"s":"DA45","x":4.8,"y":0.7},{"s":"DA45","x":5.2,"y":0.4},{"s":"DA45","x":5.6,"y":0.2},
{"s":"DAp45","x":0.4,"y":90.7},{"s":"DAp45","x":0.8,"y":90.2},{"s":"DAp45","x":1.2,"y":89.9},{"s":"DAp45","x":1.6,"y":89.2},{"s":"DAp45","x":2,"y":87.2},{"s":"DAp45","x":2.4,"y":84.2},{"s":"DAp45","x":2.8,"y":74.6},{"s":"DAp45","x":3.2,"y":58.6},{"s":"DAp45","x":3.6,"y":37.4},{"s":"DAp45","x":4,"y":17.3},{"s":"DAp45","x":4.4,"y":5.2},{"s":"DAp45","x":4.8,"y":1.2},{"s":"DAp45","x":5.2,"y":0.7},{"s":"DAp45","x":5.6,"y":0.4},
{"s":"DA60","x":0.4,"y":93.6},{"s":"DA60","x":0.8,"y":92.6},{"s":"DA60","x":1.2,"y":92.6},{"s":"DA60","x":1.6,"y":91.8},{"s":"DA60","x":2,"y":90.7},{"s":"DA60","x":2.4,"y":89.5},{"s":"DA60","x":2.8,"y":85.2},{"s":"DA60","x":3.2,"y":80.2},{"s":"DA60","x":3.6,"y":70.1},{"s":"DA60","x":4,"y":50.5},{"s":"DA60","x":4.4,"y":35.4},{"s":"DA60","x":4.8,"y":23.3},{"s":"DA60","x":5.2,"y":12.5},{"s":"DA60","x":5.6,"y":12.5},
{"s":"DAp60","x":0.4,"y":91.2},{"s":"DAp60","x":0.8,"y":90.5},{"s":"DAp60","x":1.2,"y":90.5},{"s":"DAp60","x":1.6,"y":89.7},{"s":"DAp60","x":2,"y":88.5},{"s":"DAp60","x":2.4,"y":86.7},{"s":"DAp60","x":2.8,"y":83.7},{"s":"DAp60","x":3.2,"y":78.7},{"s":"DAp60","x":3.6,"y":66.6},{"s":"DAp60","x":4,"y":46.5},{"s":"DAp60","x":4.4,"y":30.4},{"s":"DAp60","x":4.8,"y":20.3},{"s":"DAp60","x":5.2,"y":11.8},{"s":"DAp60","x":5.6,"y":11.3}
],
"B_500MS": [
{"s":"DA30","x":0.4,"y":92.5},{"s":"DA30","x":0.8,"y":92},{"s":"DA30","x":1.2,"y":91.5},{"s":"DA30","x":1.6,"y":90.5},{"s":"DA30","x":2,"y":89.5},{"s":"DA30","x":2.4,"y":88.5},{"s":"DA30","x":2.8,"y":87.5},{"s":"DA30","x":3.2,"y":86.5},{"s":"DA30","x":3.6,"y":85},{"s":"DA30","x":4,"y":84},{"s":"DA30","x":4.4,"y":83},{"s":"DA30","x":4.8,"y":82},{"s":"DA30","x":5.2,"y":81},{"s":"DA30","x":5.6,"y":81.5},
{"s":"DAp30","x":0.4,"y":91},{"s":"DAp30","x":0.8,"y":90.5},{"s":"DAp30","x":1.2,"y":90},{"s":"DAp30","x":1.6,"y":89},{"s":"DAp30","x":2,"y":88},{"s":"DAp30","x":2.4,"y":87},{"s":"DAp30","x":2.8,"y":85.5},{"s":"DAp30","x":3.2,"y":84},{"s":"DAp30","x":3.6,"y":82},{"s":"DAp30","x":4,"y":80},{"s":"DAp30","x":4.4,"y":78.5},{"s":"DAp30","x":4.8,"y":77.5},{"s":"DAp30","x":5.2,"y":77},{"s":"DAp30","x":5.6,"y":77},
{"s":"DA45","x":0.4,"y":93},{"s":"DA45","x":0.8,"y":92.5},{"s":"DA45","x":1.2,"y":92},{"s":"DA45","x":1.6,"y":91.5},{"s":"DA45","x":2,"y":91},{"s":"DA45","x":2.4,"y":90.5},{"s":"DA45","x":2.8,"y":90},{"s":"DA45","x":3.2,"y":89.5},{"s":"DA45","x":3.6,"y":89},{"s":"DA45","x":4,"y":88.5},{"s":"DA45","x":4.4,"y":88},{"s":"DA45","x":4.8,"y":87.5},{"s":"DA45","x":5.2,"y":87},{"s":"DA45","x":5.6,"y":87},
{"s":"DAp45","x":0.4,"y":91.5},{"s":"DAp45","x":0.8,"y":91},{"s":"DAp45","x":1.2,"y":90.5},{"s":"DAp45","x":1.6,"y":90},{"s":"DAp45","x":2,"y":89},{"s":"DAp45","x":2.4,"y":88.5},{"s":"DAp45","x":2.8,"y":87.5},{"s":"DAp45","x":3.2,"y":87},{"s":"DAp45","x":3.6,"y":86},{"s":"DAp45","x":4,"y":85},{"s":"DAp45","x":4.4,"y":84.5},{"s":"DAp45","x":4.8,"y":84},{"s":"DAp45","x":5.2,"y":83.5},{"s":"DAp45","x":5.6,"y":83.5},
{"s":"DA60","x":0.4,"y":94},{"s":"DA60","x":0.8,"y":93.5},{"s":"DA60","x":1.2,"y":92.5},{"s":"DA60","x":1.6,"y":92},{"s":"DA60","x":2,"y":92},{"s":"DA60","x":2.4,"y":91.5},{"s":"DA60","x":2.8,"y":91},{"s":"DA60","x":3.2,"y":91},{"s":"DA60","x":3.6,"y":90.5},{"s":"DA60","x":4,"y":90},{"s":"DA60","x":4.4,"y":89.5},{"s":"DA60","x":4.8,"y":89},{"s":"DA60","x":5.2,"y":88.5},{"s":"DA60","x":5.6,"y":88.5},
{"s":"DAp60","x":0.4,"y":92},{"s":"DAp60","x":0.8,"y":91.5},{"s":"DAp60","x":1.2,"y":91},{"s":"DAp60","x":1.6,"y":90.5},{"s":"DAp60","x":2,"y":90},{"s":"DAp60","x":2.4,"y":89.5},{"s":"DAp60","x":2.8,"y":89},{"s":"DAp60","x":3.2,"y":88.5},{"s":"DAp60","x":3.6,"y":88},{"s":"DAp60","x":4,"y":87.5},{"s":"DAp60","x":4.4,"y":86.5},{"s":"DAp60","x":4.8,"y":86},{"s":"DAp60","x":5.2,"y":85.5},{"s":"DAp60","x":5.6,"y":85.5}
],
"D_500MS": [
{"s":"DA30","x":0.4,"y":92.3},{"s":"DA30","x":0.8,"y":91.8},{"s":"DA30","x":1.2,"y":90.7},{"s":"DA30","x":1.6,"y":89.7},{"s":"DA30","x":2,"y":88.2},{"s":"DA30","x":2.4,"y":86.2},{"s":"DA30","x":2.8,"y":83.7},{"s":"DA30","x":3.2,"y":74.6},{"s":"DA30","x":3.6,"y":60.1},{"s":"DA30","x":4,"y":49.5},{"s":"DA30","x":4.4,"y":38.4},{"s":"DA30","x":4.8,"y":31.4},{"s":"DA30","x":5.2,"y":23.3},{"s":"DA30","x":5.6,"y":24.8},
{"s":"DAp30","x":0.4,"y":89.5},{"s":"DAp30","x":0.8,"y":89.7},{"s":"DAp30","x":1.2,"y":88.7},{"s":"DAp30","x":1.6,"y":87.5},{"s":"DAp30","x":2,"y":85.7},{"s":"DAp30","x":2.4,"y":83.7},{"s":"DAp30","x":2.8,"y":78.7},{"s":"DAp30","x":3.2,"y":71.6},{"s":"DAp30","x":3.6,"y":61.6},{"s":"DAp30","x":4,"y":52.5},{"s":"DAp30","x":4.4,"y":43.5},{"s":"DAp30","x":4.8,"y":35.4},{"s":"DAp30","x":5.2,"y":28.9},{"s":"DAp30","x":5.6,"y":30.9},
{"s":"DA45","x":0.4,"y":92.8},{"s":"DA45","x":0.8,"y":92.3},{"s":"DA45","x":1.2,"y":92},{"s":"DA45","x":1.6,"y":91.2},{"s":"DA45","x":2,"y":90.2},{"s":"DA45","x":2.4,"y":89.2},{"s":"DA45","x":2.8,"y":87.5},{"s":"DA45","x":3.2,"y":84.2},{"s":"DA45","x":3.6,"y":80.7},{"s":"DA45","x":4,"y":72.6},{"s":"DA45","x":4.4,"y":63.6},{"s":"DA45","x":4.8,"y":53.7},{"s":"DA45","x":5.2,"y":51.5},{"s":"DA45","x":5.6,"y":48.5},
{"s":"DAp45","x":0.4,"y":90.2},{"s":"DAp45","x":0.8,"y":90.2},{"s":"DAp45","x":1.2,"y":89.7},{"s":"DAp45","x":1.6,"y":88.7},{"s":"DAp45","x":2,"y":87.2},{"s":"DAp45","x":2.4,"y":85.7},{"s":"DAp45","x":2.8,"y":83.2},{"s":"DAp45","x":3.2,"y":80.2},{"s":"DAp45","x":3.6,"y":76.7},{"s":"DAp45","x":4,"y":69.6},{"s":"DAp45","x":4.4,"y":62.6},{"s":"DAp45","x":4.8,"y":55.5},{"s":"DAp45","x":5.2,"y":54.5},{"s":"DAp45","x":5.6,"y":51.5},
{"s":"DA60","x":0.4,"y":93.6},{"s":"DA60","x":0.8,"y":93.6},{"s":"DA60","x":1.2,"y":92.6},{"s":"DA60","x":1.6,"y":92.3},{"s":"DA60","x":2,"y":91.2},{"s":"DA60","x":2.4,"y":90.2},{"s":"DA60","x":2.8,"y":89.2},{"s":"DA60","x":3.2,"y":88.5},{"s":"DA60","x":3.6,"y":85.2},{"s":"DA60","x":4,"y":82.5},{"s":"DA60","x":4.4,"y":80.2},{"s":"DA60","x":4.8,"y":74.6},{"s":"DA60","x":5.2,"y":69.1},{"s":"DA60","x":5.6,"y":67.8},
{"s":"DAp60","x":0.4,"y":91.2},{"s":"DAp60","x":0.8,"y":90.5},{"s":"DAp60","x":1.2,"y":90.2},{"s":"DAp60","x":1.6,"y":89.7},{"s":"DAp60","x":2,"y":88.5},{"s":"DAp60","x":2.4,"y":87.5},{"s":"DAp60","x":2.8,"y":86.2},{"s":"DAp60","x":3.2,"y":84.2},{"s":"DAp60","x":3.6,"y":81.2},{"s":"DAp60","x":4,"y":77.7},{"s":"DAp60","x":4.4,"y":74.6},{"s":"DAp60","x":4.8,"y":70.4},{"s":"DAp60","x":5.2,"y":66.6},{"s":"DAp60","x":5.6,"y":65.6}
],
"B_500LN": [
{"s":"DA30","x":0.4,"y":85.6},{"s":"DA30","x":0.8,"y":84.6},{"s":"DA30","x":1.2,"y":83.1},{"s":"DA30","x":1.6,"y":79.1},{"s":"DA30","x":2,"y":73.5},{"s":"DA30","x":2.4,"y":69.5},{"s":"DA30","x":2.8,"y":64.5},{"s":"DA30","x":3.2,"y":59},{"s":"DA30","x":3.6,"y":52.9},{"s":"DA30","x":4,"y":45.3},{"s":"DA30","x":4.4,"y":41.3},{"s":"DA30","x":4.8,"y":35.2},{"s":"DA30","x":5.2,"y":33.2},{"s":"DA30","x":5.6,"y":39.8},
{"s":"DAp30","x":0.4,"y":80.1},{"s":"DAp30","x":0.8,"y":81.1},{"s":"DAp30","x":1.2,"y":78},{"s":"DAp30","x":1.6,"y":72},{"s":"DAp30","x":2,"y":66},{"s":"DAp30","x":2.4,"y":60},{"s":"DAp30","x":2.8,"y":53.9},{"s":"DAp30","x":3.2,"y":46.8},{"s":"DAp30","x":3.6,"y":39.8},{"s":"DAp30","x":4,"y":33.2},{"s":"DAp30","x":4.4,"y":30.7},{"s":"DAp30","x":4.8,"y":25.2},{"s":"DAp30","x":5.2,"y":23.2},{"s":"DAp30","x":5.6,"y":28.2},
{"s":"DA45","x":0.4,"y":88.3},{"s":"DA45","x":0.8,"y":87.6},{"s":"DA45","x":1.2,"y":86.3},{"s":"DA45","x":1.6,"y":84.1},{"s":"DA45","x":2,"y":81.1},{"s":"DA45","x":2.4,"y":78},{"s":"DA45","x":2.8,"y":75},{"s":"DA45","x":3.2,"y":70.5},{"s":"DA45","x":3.6,"y":68.7},{"s":"DA45","x":4,"y":66.2},{"s":"DA45","x":4.4,"y":63.6},{"s":"DA45","x":4.8,"y":61.6},{"s":"DA45","x":5.2,"y":61.1},{"s":"DA45","x":5.6,"y":63.1},
{"s":"DAp45","x":0.4,"y":85.6},{"s":"DAp45","x":0.8,"y":85.1},{"s":"DAp45","x":1.2,"y":83.6},{"s":"DAp45","x":1.6,"y":80.1},{"s":"DAp45","x":2,"y":75},{"s":"DAp45","x":2.4,"y":70},{"s":"DAp45","x":2.8,"y":67.7},{"s":"DAp45","x":3.2,"y":63.6},{"s":"DAp45","x":3.6,"y":60.6},{"s":"DAp45","x":4,"y":57.5},{"s":"DAp45","x":4.4,"y":55},{"s":"DAp45","x":4.8,"y":52.4},{"s":"DAp45","x":5.2,"y":51.9},{"s":"DAp45","x":5.6,"y":54.5},
{"s":"DA60","x":0.4,"y":89.1},{"s":"DA60","x":0.8,"y":88.3},{"s":"DA60","x":1.2,"y":87.3},{"s":"DA60","x":1.6,"y":85.6},{"s":"DA60","x":2,"y":83.6},{"s":"DA60","x":2.4,"y":80.6},{"s":"DA60","x":2.8,"y":78.5},{"s":"DA60","x":3.2,"y":76.5},{"s":"DA60","x":3.6,"y":74.5},{"s":"DA60","x":4,"y":72.5},{"s":"DA60","x":4.4,"y":70.5},{"s":"DA60","x":4.8,"y":69.1},{"s":"DA60","x":5.2,"y":69.1},{"s":"DA60","x":5.6,"y":70.2},
{"s":"DAp60","x":0.4,"y":86.1},{"s":"DAp60","x":0.8,"y":85.3},{"s":"DAp60","x":1.2,"y":84.1},{"s":"DAp60","x":1.6,"y":82.1},{"s":"DAp60","x":2,"y":79.6},{"s":"DAp60","x":2.4,"y":77.1},{"s":"DAp60","x":2.8,"y":74.1},{"s":"DAp60","x":3.2,"y":70.5},{"s":"DAp60","x":3.6,"y":68.2},{"s":"DAp60","x":4,"y":65.7},{"s":"DAp60","x":4.4,"y":63.4},{"s":"DAp60","x":4.8,"y":62.1},{"s":"DAp60","x":5.2,"y":61.1},{"s":"DAp60","x":5.6,"y":62.1}
],
"D_500LN": [
{"s":"DA30","x":0.4,"y":83.3},{"s":"DA30","x":0.8,"y":83.3},{"s":"DA30","x":1.2,"y":81.1},{"s":"DA30","x":1.6,"y":75},{"s":"DA30","x":2,"y":66},{"s":"DA30","x":2.4,"y":49.8},{"s":"DA30","x":2.8,"y":37.8},{"s":"DA30","x":3.2,"y":17.6},{"s":"DA30","x":3.6,"y":4},{"s":"DA30","x":4,"y":0.3},{"s":"DA30","x":4.4,"y":0},{"s":"DA30","x":4.8,"y":0},{"s":"DA30","x":5.2,"y":0},{"s":"DA30","x":5.6,"y":0},
{"s":"DAp30","x":0.4,"y":78.2},{"s":"DAp30","x":0.8,"y":79.6},{"s":"DAp30","x":1.2,"y":76},{"s":"DAp30","x":1.6,"y":70.5},{"s":"DAp30","x":2,"y":59.9},{"s":"DAp30","x":2.4,"y":43.8},{"s":"DAp30","x":2.8,"y":29.7},{"s":"DAp30","x":3.2,"y":14.6},{"s":"DAp30","x":3.6,"y":3},{"s":"DAp30","x":4,"y":0.3},{"s":"DAp30","x":4.4,"y":0},{"s":"DAp30","x":4.8,"y":0},{"s":"DAp30","x":5.2,"y":0},{"s":"DAp30","x":5.6,"y":0},
{"s":"DA45","x":0.4,"y":83.6},{"s":"DA45","x":0.8,"y":83.3},{"s":"DA45","x":1.2,"y":81.6},{"s":"DA45","x":1.6,"y":78},{"s":"DA45","x":2,"y":74.5},{"s":"DA45","x":2.4,"y":69},{"s":"DA45","x":2.8,"y":61.9},{"s":"DA45","x":3.2,"y":49.8},{"s":"DA45","x":3.6,"y":34.7},{"s":"DA45","x":4,"y":17.1},{"s":"DA45","x":4.4,"y":5.5},{"s":"DA45","x":4.8,"y":0.5},{"s":"DA45","x":5.2,"y":0},{"s":"DA45","x":5.6,"y":0},
{"s":"DAp45","x":0.4,"y":83.9},{"s":"DAp45","x":0.8,"y":83.6},{"s":"DAp45","x":1.2,"y":81.1},{"s":"DAp45","x":1.6,"y":75},{"s":"DAp45","x":2,"y":69},{"s":"DAp45","x":2.4,"y":61.9},{"s":"DAp45","x":2.8,"y":51.9},{"s":"DAp45","x":3.2,"y":40.8},{"s":"DAp45","x":3.6,"y":29.7},{"s":"DAp45","x":4,"y":16.6},{"s":"DAp45","x":4.4,"y":6},{"s":"DAp45","x":4.8,"y":1},{"s":"DAp45","x":5.2,"y":0},{"s":"DAp45","x":5.6,"y":0},
{"s":"DA60","x":0.4,"y":89.1},{"s":"DA60","x":0.8,"y":88.3},{"s":"DA60","x":1.2,"y":86.6},{"s":"DA60","x":1.6,"y":84.1},{"s":"DA60","x":2,"y":79.6},{"s":"DA60","x":2.4,"y":74.5},{"s":"DA60","x":2.8,"y":69},{"s":"DA60","x":3.2,"y":62},{"s":"DA60","x":3.6,"y":52.4},{"s":"DA60","x":4,"y":40.3},{"s":"DA60","x":4.4,"y":25.7},{"s":"DA60","x":4.8,"y":17.1},{"s":"DA60","x":5.2,"y":8.6},{"s":"DA60","x":5.6,"y":7.6},
{"s":"DAp60","x":0.4,"y":85.1},{"s":"DAp60","x":0.8,"y":84.3},{"s":"DAp60","x":1.2,"y":82.1},{"s":"DAp60","x":1.6,"y":78},{"s":"DAp60","x":2,"y":73},{"s":"DAp60","x":2.4,"y":67.5},{"s":"DAp60","x":2.8,"y":61.4},{"s":"DAp60","x":3.2,"y":50.9},{"s":"DAp60","x":3.6,"y":42.3},{"s":"DAp60","x":4,"y":30.7},{"s":"DAp60","x":4.4,"y":19.6},{"s":"DAp60","x":4.8,"y":11.6},{"s":"DAp60","x":5.2,"y":7},{"s":"DAp60","x":5.6,"y":5.5}
],
"B_500LS": [
{"s":"DA30","x":0.4,"y":86},{"s":"DA30","x":0.8,"y":85.5},{"s":"DA30","x":1.2,"y":84.5},{"s":"DA30","x":1.6,"y":82.5},{"s":"DA30","x":2,"y":80},{"s":"DA30","x":2.4,"y":77.5},{"s":"DA30","x":2.8,"y":75},{"s":"DA30","x":3.2,"y":72.5},{"s":"DA30","x":3.6,"y":70},{"s":"DA30","x":4,"y":67.5},{"s":"DA30","x":4.4,"y":65},{"s":"DA30","x":4.8,"y":62.5},{"s":"DA30","x":5.2,"y":60},{"s":"DA30","x":5.6,"y":60.5},
{"s":"DAp30","x":0.4,"y":82},{"s":"DAp30","x":0.8,"y":81.5},{"s":"DAp30","x":1.2,"y":80},{"s":"DAp30","x":1.6,"y":77.5},{"s":"DAp30","x":2,"y":75},{"s":"DAp30","x":2.4,"y":72},{"s":"DAp30","x":2.8,"y":69},{"s":"DAp30","x":3.2,"y":66},{"s":"DAp30","x":3.6,"y":63},{"s":"DAp30","x":4,"y":60.5},{"s":"DAp30","x":4.4,"y":58},{"s":"DAp30","x":4.8,"y":55.5},{"s":"DAp30","x":5.2,"y":53.5},{"s":"DAp30","x":5.6,"y":54},
{"s":"DA45","x":0.4,"y":88},{"s":"DA45","x":0.8,"y":87.5},{"s":"DA45","x":1.2,"y":86.5},{"s":"DA45","x":1.6,"y":85},{"s":"DA45","x":2,"y":83},{"s":"DA45","x":2.4,"y":81},{"s":"DA45","x":2.8,"y":79},{"s":"DA45","x":3.2,"y":77},{"s":"DA45","x":3.6,"y":75.5},{"s":"DA45","x":4,"y":74},{"s":"DA45","x":4.4,"y":72.5},{"s":"DA45","x":4.8,"y":71},{"s":"DA45","x":5.2,"y":70.5},{"s":"DA45","x":5.6,"y":70.5},
{"s":"DAp45","x":0.4,"y":84.5},{"s":"DAp45","x":0.8,"y":84},{"s":"DAp45","x":1.2,"y":82.5},{"s":"DAp45","x":1.6,"y":80.5},{"s":"DAp45","x":2,"y":78},{"s":"DAp45","x":2.4,"y":75.5},{"s":"DAp45","x":2.8,"y":73},{"s":"DAp45","x":3.2,"y":71},{"s":"DAp45","x":3.6,"y":69},{"s":"DAp45","x":4,"y":67.5},{"s":"DAp45","x":4.4,"y":66},{"s":"DAp45","x":4.8,"y":64.5},{"s":"DAp45","x":5.2,"y":63.5},{"s":"DAp45","x":5.6,"y":64},
{"s":"DA60","x":0.4,"y":89},{"s":"DA60","x":0.8,"y":88.5},{"s":"DA60","x":1.2,"y":88},{"s":"DA60","x":1.6,"y":86.5},{"s":"DA60","x":2,"y":85},{"s":"DA60","x":2.4,"y":83.5},{"s":"DA60","x":2.8,"y":82},{"s":"DA60","x":3.2,"y":80.5},{"s":"DA60","x":3.6,"y":79},{"s":"DA60","x":4,"y":78},{"s":"DA60","x":4.4,"y":77},{"s":"DA60","x":4.8,"y":76},{"s":"DA60","x":5.2,"y":75.5},{"s":"DA60","x":5.6,"y":75.5},
{"s":"DAp60","x":0.4,"y":86},{"s":"DAp60","x":0.8,"y":85.5},{"s":"DAp60","x":1.2,"y":84.5},{"s":"DAp60","x":1.6,"y":83},{"s":"DAp60","x":2,"y":81.5},{"s":"DAp60","x":2.4,"y":79.5},{"s":"DAp60","x":2.8,"y":77.5},{"s":"DAp60","x":3.2,"y":75.5},{"s":"DAp60","x":3.6,"y":74},{"s":"DAp60","x":4,"y":72.5},{"s":"DAp60","x":4.4,"y":71},{"s":"DAp60","x":4.8,"y":70},{"s":"DAp60","x":5.2,"y":69.5},{"s":"DAp60","x":5.6,"y":69.5}
],
"D_500LS": [
{"s":"DA30","x":0.4,"y":86.1},{"s":"DA30","x":0.8,"y":86.3},{"s":"DA30","x":1.2,"y":85.1},{"s":"DA30","x":1.6,"y":81.6},{"s":"DA30","x":2,"y":76.5},{"s":"DA30","x":2.4,"y":70},{"s":"DA30","x":2.8,"y":62.9},{"s":"DA30","x":3.2,"y":56.9},{"s":"DA30","x":3.6,"y":50.9},{"s":"DA30","x":4,"y":42.8},{"s":"DA30","x":4.4,"y":34.7},{"s":"DA30","x":4.8,"y":26.7},{"s":"DA30","x":5.2,"y":20.8},{"s":"DA30","x":5.6,"y":20.6},
{"s":"DAp30","x":0.4,"y":80.1},{"s":"DAp30","x":0.8,"y":80.9},{"s":"DAp30","x":1.2,"y":79.6},{"s":"DAp30","x":1.6,"y":75},{"s":"DAp30","x":2,"y":70},{"s":"DAp30","x":2.4,"y":63.9},{"s":"DAp30","x":2.8,"y":55.9},{"s":"DAp30","x":3.2,"y":49.8},{"s":"DAp30","x":3.6,"y":44.8},{"s":"DAp30","x":4,"y":39.8},{"s":"DAp30","x":4.4,"y":33.7},{"s":"DAp30","x":4.8,"y":26.7},{"s":"DAp30","x":5.2,"y":22.2},{"s":"DAp30","x":5.6,"y":23.2},
{"s":"DA45","x":0.4,"y":88.3},{"s":"DA45","x":0.8,"y":87.6},{"s":"DA45","x":1.2,"y":86.6},{"s":"DA45","x":1.6,"y":84.1},{"s":"DA45","x":2,"y":80.1},{"s":"DA45","x":2.4,"y":76.1},{"s":"DA45","x":2.8,"y":71.1},{"s":"DA45","x":3.2,"y":66},{"s":"DA45","x":3.6,"y":60.1},{"s":"DA45","x":4,"y":55},{"s":"DA45","x":4.4,"y":51.9},{"s":"DA45","x":4.8,"y":48.4},{"s":"DA45","x":5.2,"y":44.7},{"s":"DA45","x":5.6,"y":44.7},
{"s":"DAp45","x":0.4,"y":84.1},{"s":"DAp45","x":0.8,"y":84.1},{"s":"DAp45","x":1.2,"y":83.1},{"s":"DAp45","x":1.6,"y":80.6},{"s":"DAp45","x":2,"y":77},{"s":"DAp45","x":2.4,"y":72.5},{"s":"DAp45","x":2.8,"y":67},{"s":"DAp45","x":3.2,"y":61.9},{"s":"DAp45","x":3.6,"y":55.9},{"s":"DAp45","x":4,"y":49.8},{"s":"DAp45","x":4.4,"y":46.8},{"s":"DAp45","x":4.8,"y":44.3},{"s":"DAp45","x":5.2,"y":41.8},{"s":"DAp45","x":5.6,"y":41.3},
{"s":"DA60","x":0.4,"y":89.1},{"s":"DA60","x":0.8,"y":88.6},{"s":"DA60","x":1.2,"y":87.6},{"s":"DA60","x":1.6,"y":85.6},{"s":"DA60","x":2,"y":82.1},{"s":"DA60","x":2.4,"y":79.1},{"s":"DA60","x":2.8,"y":75},{"s":"DA60","x":3.2,"y":71.5},{"s":"DA60","x":3.6,"y":67},{"s":"DA60","x":4,"y":62.9},{"s":"DA60","x":4.4,"y":57.9},{"s":"DA60","x":4.8,"y":55.9},{"s":"DA60","x":5.2,"y":53.7},{"s":"DA60","x":5.6,"y":52.4},
{"s":"DAp60","x":0.4,"y":85.6},{"s":"DAp60","x":0.8,"y":85.3},{"s":"DAp60","x":1.2,"y":84.1},{"s":"DAp60","x":1.6,"y":82.1},{"s":"DAp60","x":2,"y":79.6},{"s":"DAp60","x":2.4,"y":76.1},{"s":"DAp60","x":2.8,"y":70},{"s":"DAp60","x":3.2,"y":66},{"s":"DAp60","x":3.6,"y":59.4},{"s":"DAp60","x":4,"y":55},{"s":"DAp60","x":4.4,"y":51.9},{"s":"DAp60","x":4.8,"y":49.8},{"s":"DAp60","x":5.2,"y":48.8},{"s":"DAp60","x":5.6,"y":47.3}
]
},
"config": {
  "font": "Liberation Serif",
  "view": {"fill": "#d4d4d4", "stroke": "#bdbdbd", "strokeWidth": 2},
  "title": {"anchor": "start", "frame": "group", "font": "Liberation Serif", "fontSize": 64, "fontWeight": "normal", "color": "#000000", "offset": 11},
  "axis": {"grid": false, "ticks": false, "domain": false, "labelFont": "Liberation Serif", "labelFontSize": 58, "labelColor": "#000000", "labelOverlap": false, "labelFlush": false, "titleFont": "Liberation Serif", "titleFontSize": 46, "titleFontWeight": "bold", "titleColor": "#ee8c2c"},
  "axisX": {"labelAngle": -90, "labelPadding": 4},
  "axisY": {"labelPadding": 2, "titlePadding": 3},
  "legend": {"orient": "bottom", "direction": "horizontal", "columns": 3, "labelFont": "Liberation Serif", "labelFontSize": 62, "labelColor": "#000000", "labelLimit": 0, "symbolSize": 3969, "symbolOffset": 98, "columnPadding": 25, "rowPadding": 4, "labelOffset": 49.5, "offset": 73, "layout": {"bottom": {"anchor": "middle"}}},
  "line": {"strokeCap": "butt"}
}
}
